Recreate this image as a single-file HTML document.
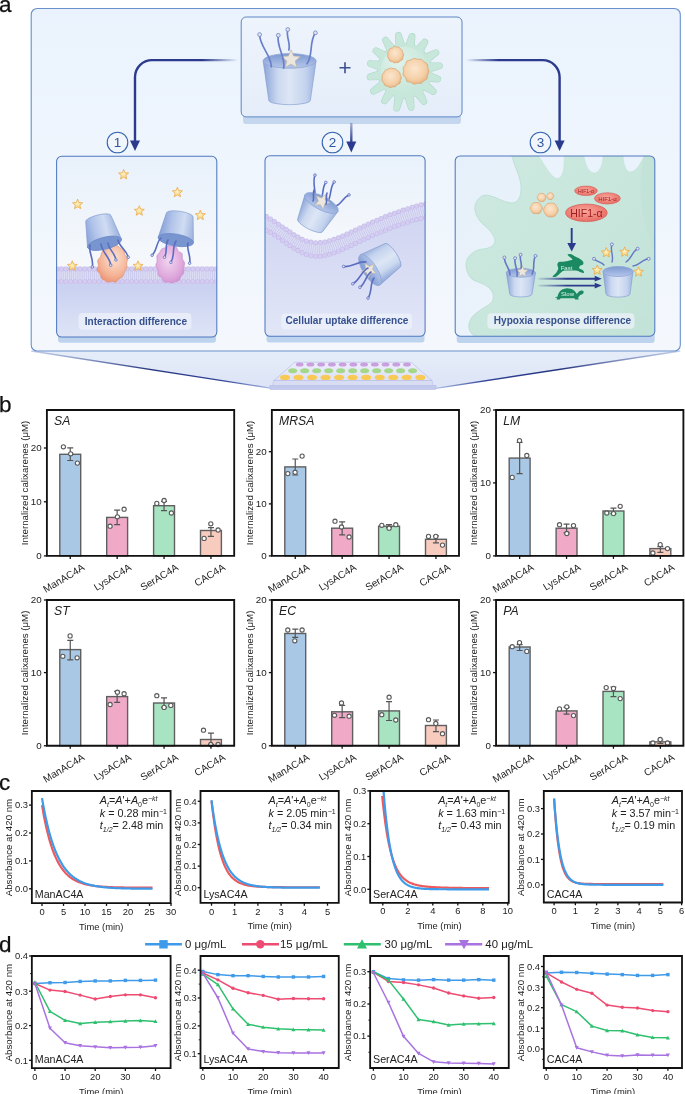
<!DOCTYPE html>
<html><head><meta charset="utf-8"><title>Figure</title>
<style>html,body{margin:0;padding:0;background:#fff;width:685px;height:1094px;overflow:hidden}
svg text{font-family:"Liberation Sans",sans-serif} svg{will-change:transform}</style></head>
<body>
<svg width="685" height="1094" viewBox="0 0 685 1094" style="display:block;font-family:'Liberation Sans',sans-serif">
<defs>
<linearGradient id="gBig" x1="0" y1="0" x2="0" y2="1"><stop offset="0" stop-color="#eaf3fd"/><stop offset="1" stop-color="#f4f8fd"/></linearGradient>
<linearGradient id="gFun" x1="0" y1="0" x2="0" y2="1"><stop offset="0" stop-color="#e6edf9"/><stop offset="1" stop-color="#dce4f6"/></linearGradient>
<linearGradient id="gFunL" x1="0" y1="0" x2="1" y2="0"><stop offset="0" stop-color="#9fb3dc" stop-opacity="0.6"/><stop offset="0.5" stop-color="#25347e"/><stop offset="0.8" stop-color="#34459a"/><stop offset="1" stop-color="#b3c2e8"/></linearGradient>
<linearGradient id="gFunR" x1="1" y1="0" x2="0" y2="0"><stop offset="0" stop-color="#9fb3dc" stop-opacity="0.6"/><stop offset="0.5" stop-color="#25347e"/><stop offset="0.8" stop-color="#34459a"/><stop offset="1" stop-color="#b3c2e8"/></linearGradient>
<linearGradient id="gTop" x1="0" y1="0" x2="0" y2="1"><stop offset="0" stop-color="#eef4fc"/><stop offset="1" stop-color="#e4edf9"/></linearGradient>
<linearGradient id="gArrV" x1="0" y1="123" x2="0" y2="143" gradientUnits="userSpaceOnUse"><stop offset="0" stop-color="#2b3a8c" stop-opacity="0.35"/><stop offset="1" stop-color="#2b3a8c"/></linearGradient>
<linearGradient id="gArrL" x1="1" y1="0" x2="0" y2="0"><stop offset="0" stop-color="#2b3a8c" stop-opacity="0"/><stop offset="0.35" stop-color="#2b3a8c"/><stop offset="1" stop-color="#2b3a8c"/></linearGradient>
<linearGradient id="gArrR" x1="0" y1="0" x2="1" y2="0"><stop offset="0" stop-color="#2b3a8c" stop-opacity="0"/><stop offset="0.35" stop-color="#2b3a8c"/><stop offset="1" stop-color="#2b3a8c"/></linearGradient>
<linearGradient id="gP1top" x1="0" y1="0" x2="0" y2="1"><stop offset="0" stop-color="#e8f1fb"/><stop offset="1" stop-color="#f6f8fb"/></linearGradient>
<linearGradient id="gP1bot" x1="0" y1="0" x2="0" y2="1"><stop offset="0" stop-color="#c6cdf0"/><stop offset="1" stop-color="#dfe5f6"/></linearGradient>
<linearGradient id="gP2bot" x1="0" y1="0" x2="0" y2="1"><stop offset="0" stop-color="#c9cdef"/><stop offset="1" stop-color="#e1e6f7"/></linearGradient>
<linearGradient id="gP3" x1="0" y1="0" x2="1" y2="1"><stop offset="0" stop-color="#e6f0fa"/><stop offset="1" stop-color="#eef5fb"/></linearGradient>
<linearGradient id="gBucket" x1="0" y1="0" x2="1" y2="0"><stop offset="0" stop-color="#9fb5e0"/><stop offset="0.3" stop-color="#dbe6f6"/><stop offset="0.7" stop-color="#b9cbeb"/><stop offset="1" stop-color="#8ea8db"/></linearGradient>
<linearGradient id="gBucketT" x1="0" y1="0" x2="1" y2="0"><stop offset="0" stop-color="#8aa3d6"/><stop offset="0.28" stop-color="#cbd8f0"/><stop offset="0.5" stop-color="#dde6f5"/><stop offset="0.8" stop-color="#c4d3ee"/><stop offset="1" stop-color="#9cb2de"/></linearGradient>
<linearGradient id="gRimT" x1="0" y1="0" x2="0" y2="1"><stop offset="0" stop-color="#7d99d2"/><stop offset="1" stop-color="#b5c7ea"/></linearGradient>
<linearGradient id="gBucketD" x1="0" y1="0" x2="1" y2="0"><stop offset="0" stop-color="#98afdd"/><stop offset="0.35" stop-color="#d0dcf2"/><stop offset="0.7" stop-color="#b0c3e9"/><stop offset="1" stop-color="#86a0d7"/></linearGradient>
<radialGradient id="gCell" cx="0.45" cy="0.45" r="0.6"><stop offset="0" stop-color="#dff2ea"/><stop offset="1" stop-color="#b9e0d2"/></radialGradient>
<radialGradient id="gOr" cx="0.45" cy="0.4" r="0.65"><stop offset="0" stop-color="#fbe6cf"/><stop offset="0.65" stop-color="#f5cfa6"/><stop offset="1" stop-color="#e6ad7a"/></radialGradient>
<radialGradient id="gCellIn" cx="0.35" cy="0.3" r="0.8"><stop offset="0" stop-color="#e2f3ec"/><stop offset="0.7" stop-color="#cdeadf" stop-opacity="0.6"/><stop offset="1" stop-color="#c6e6da" stop-opacity="0"/></radialGradient>
<radialGradient id="gBlobO" cx="0.55" cy="0.35" r="0.75"><stop offset="0" stop-color="#fde3d2"/><stop offset="0.6" stop-color="#f5b598"/><stop offset="1" stop-color="#e98a6c"/></radialGradient>
<radialGradient id="gBlobP" cx="0.45" cy="0.4" r="0.75"><stop offset="0" stop-color="#f3d6f0"/><stop offset="0.6" stop-color="#dfa9dc"/><stop offset="1" stop-color="#c685c8"/></radialGradient>
<radialGradient id="gHIF" cx="0.45" cy="0.4" r="0.7"><stop offset="0" stop-color="#f9a79c"/><stop offset="1" stop-color="#e5655d"/></radialGradient>
<linearGradient id="gArrH" x1="538" y1="0" x2="596" y2="0" gradientUnits="userSpaceOnUse"><stop offset="0" stop-color="#2b3a8c" stop-opacity="0.1"/><stop offset="0.5" stop-color="#2b3a8c"/><stop offset="1" stop-color="#2b3a8c"/></linearGradient>
<linearGradient id="gCell3" x1="0" y1="0" x2="1" y2="1"><stop offset="0" stop-color="#cfeae1"/><stop offset="1" stop-color="#c1e2d6"/></linearGradient>
<radialGradient id="gStar" cx="0.45" cy="0.45" r="0.6"><stop offset="0" stop-color="#fdf0c4"/><stop offset="1" stop-color="#f7cf6a"/></radialGradient>
<linearGradient id="gPlate" x1="0" y1="0" x2="0" y2="1"><stop offset="0" stop-color="#eceefa"/><stop offset="1" stop-color="#dde1f5"/></linearGradient>
<clipPath id="sp1"><rect x="56.6" y="156.3" width="160.2" height="180.7" rx="5"/></clipPath><clipPath id="sp2"><rect x="265" y="155.7" width="160.1" height="180.6" rx="5"/></clipPath><clipPath id="sp3"><rect x="455.2" y="156" width="199.6" height="180.2" rx="5"/></clipPath></defs>
<rect width="685" height="1094" fill="#fff"/>
<path d="M31.2 351 L680.3 351 L435.7 388.3 L272 388.3 Z" fill="url(#gFun)"/><line x1="31.2" y1="351" x2="272" y2="388.3" stroke="url(#gFunL)" stroke-width="1.3"/><line x1="680.3" y1="351" x2="435.7" y2="388.3" stroke="url(#gFunR)" stroke-width="1.3"/><rect x="31.2" y="8.5" width="649.1" height="342.5" rx="6" fill="url(#gBig)" stroke="#6a90cc" stroke-width="1.1"/><rect x="243" y="112" width="218" height="12" rx="3" fill="#c5d7ef"/><rect x="241.2" y="17" width="220.8" height="99.9" rx="5" fill="url(#gTop)" stroke="#5d84c6" stroke-width="1"/><g transform="translate(289.6 60.9) rotate(0)"><path d="M-26.5 0 L-20.8 39.4 A20.8 4.38 0 0 0 20.8 39.4 L26.5 0 Z" fill="url(#gBucketT)" stroke="#7d98cf" stroke-width="0.6"/><ellipse cx="0" cy="0" rx="26.5" ry="7.3" fill="url(#gRimT)" stroke="#8ea6d6" stroke-width="0.8"/></g><path d="M291.00,49.80 L293.59,56.03 L300.32,56.57 L295.19,60.96 L296.76,67.53 L291.00,64.01 L285.24,67.53 L286.81,60.96 L281.68,56.57 L288.41,56.03Z" fill="#ece7de" stroke="#c2b8a6" stroke-width="0.7" stroke-linejoin="round"/><path d="M271.3 66.7 C271.29 54.70 259.73 46.92 259.6 34.6" fill="none" stroke="#6a7fc8" stroke-width="1.7" stroke-linecap="round"/><circle cx="259.6" cy="34.6" r="1.9" fill="#e4e4ee" stroke="#6a7fc8" stroke-width="0.8"/><path d="M283.7 68.2 C285.87 56.70 276.19 47.13 278.3 35.3" fill="none" stroke="#6a7fc8" stroke-width="1.7" stroke-linecap="round"/><circle cx="278.3" cy="35.3" r="1.9" fill="#e4e4ee" stroke="#6a7fc8" stroke-width="0.8"/><path d="M288.8 50 C290.93 43.12 285.68 36.59 287.8 29.5" fill="none" stroke="#6a7fc8" stroke-width="1.7" stroke-linecap="round"/><circle cx="287.8" cy="29.5" r="1.9" fill="#e4e4ee" stroke="#6a7fc8" stroke-width="0.8"/><path d="M307 63.8 C313.49 54.58 308.82 42.33 315.4 32.8" fill="none" stroke="#6a7fc8" stroke-width="1.7" stroke-linecap="round"/><circle cx="315.4" cy="32.8" r="1.9" fill="#e4e4ee" stroke="#6a7fc8" stroke-width="0.8"/><path d="M339.5 67.8H350.5M345 62.3V73.3" stroke="#3b4f8f" stroke-width="1.6"/><path d="M404.94,46.39 L401.17,34.66 A2.80,2.80 0 0 0 395.66,35.64 L396.12,47.94Z" fill="#c8e7db" stroke="#aed8c9" stroke-width="1.2" stroke-linejoin="round"/><path d="M414.07,48.26 L414.76,36.95 A2.80,2.80 0 0 0 409.28,35.79 L405.31,46.39Z" fill="#c8e7db" stroke="#aed8c9" stroke-width="1.2" stroke-linejoin="round"/><path d="M422.14,53.71 L427.18,43.57 A2.80,2.80 0 0 0 422.60,40.36 L414.80,48.57Z" fill="#c8e7db" stroke="#aed8c9" stroke-width="1.2" stroke-linejoin="round"/><path d="M427.72,62.68 L437.45,55.12 A2.80,2.80 0 0 0 434.65,50.28 L423.24,54.92Z" fill="#c8e7db" stroke="#aed8c9" stroke-width="1.2" stroke-linejoin="round"/><path d="M429.09,71.90 L439.95,68.67 A2.80,2.80 0 0 0 439.17,63.13 L427.84,63.02Z" fill="#c8e7db" stroke="#aed8c9" stroke-width="1.2" stroke-linejoin="round"/><path d="M426.90,80.95 L437.21,81.79 A2.80,2.80 0 0 0 438.56,76.36 L429.07,72.26Z" fill="#c8e7db" stroke="#aed8c9" stroke-width="1.2" stroke-linejoin="round"/><path d="M421.48,88.53 L431.53,93.76 A2.80,2.80 0 0 0 434.82,89.22 L426.75,81.28Z" fill="#c8e7db" stroke="#aed8c9" stroke-width="1.2" stroke-linejoin="round"/><path d="M413.62,93.53 L421.51,102.98 A2.80,2.80 0 0 0 426.26,100.02 L421.22,88.78Z" fill="#c8e7db" stroke="#aed8c9" stroke-width="1.2" stroke-linejoin="round"/><path d="M404.46,95.21 L408.40,107.92 A2.80,2.80 0 0 0 413.92,106.95 L413.28,93.66Z" fill="#c8e7db" stroke="#aed8c9" stroke-width="1.2" stroke-linejoin="round"/><path d="M395.33,93.34 L394.02,107.58 A2.80,2.80 0 0 0 399.50,108.75 L404.09,95.21Z" fill="#c8e7db" stroke="#aed8c9" stroke-width="1.2" stroke-linejoin="round"/><path d="M387.57,88.19 L382.14,99.25 A2.80,2.80 0 0 0 386.78,102.38 L394.99,93.20Z" fill="#c8e7db" stroke="#aed8c9" stroke-width="1.2" stroke-linejoin="round"/><path d="M382.13,80.11 L371.98,88.71 A2.80,2.80 0 0 0 375.03,93.41 L387.01,87.63Z" fill="#c8e7db" stroke="#aed8c9" stroke-width="1.2" stroke-linejoin="round"/><path d="M380.29,70.56 L369.55,74.15 A2.80,2.80 0 0 0 370.52,79.67 L381.84,79.38Z" fill="#c8e7db" stroke="#aed8c9" stroke-width="1.2" stroke-linejoin="round"/><path d="M382.16,61.43 L370.85,60.74 A2.80,2.80 0 0 0 369.69,66.22 L380.29,70.19Z" fill="#c8e7db" stroke="#aed8c9" stroke-width="1.2" stroke-linejoin="round"/><path d="M387.61,53.36 L377.47,48.32 A2.80,2.80 0 0 0 374.26,52.90 L382.47,60.70Z" fill="#c8e7db" stroke="#aed8c9" stroke-width="1.2" stroke-linejoin="round"/><path d="M395.78,48.07 L387.89,38.62 A2.80,2.80 0 0 0 383.14,41.58 L388.18,52.82Z" fill="#c8e7db" stroke="#aed8c9" stroke-width="1.2" stroke-linejoin="round"/><circle cx="404.7" cy="70.8" r="27.6" fill="#aed8c9"/><path d="M404.94,46.39 L401.17,34.66 A2.80,2.80 0 0 0 395.66,35.64 L396.12,47.94Z" fill="#c8e7db"/><path d="M414.07,48.26 L414.76,36.95 A2.80,2.80 0 0 0 409.28,35.79 L405.31,46.39Z" fill="#c8e7db"/><path d="M422.14,53.71 L427.18,43.57 A2.80,2.80 0 0 0 422.60,40.36 L414.80,48.57Z" fill="#c8e7db"/><path d="M427.72,62.68 L437.45,55.12 A2.80,2.80 0 0 0 434.65,50.28 L423.24,54.92Z" fill="#c8e7db"/><path d="M429.09,71.90 L439.95,68.67 A2.80,2.80 0 0 0 439.17,63.13 L427.84,63.02Z" fill="#c8e7db"/><path d="M426.90,80.95 L437.21,81.79 A2.80,2.80 0 0 0 438.56,76.36 L429.07,72.26Z" fill="#c8e7db"/><path d="M421.48,88.53 L431.53,93.76 A2.80,2.80 0 0 0 434.82,89.22 L426.75,81.28Z" fill="#c8e7db"/><path d="M413.62,93.53 L421.51,102.98 A2.80,2.80 0 0 0 426.26,100.02 L421.22,88.78Z" fill="#c8e7db"/><path d="M404.46,95.21 L408.40,107.92 A2.80,2.80 0 0 0 413.92,106.95 L413.28,93.66Z" fill="#c8e7db"/><path d="M395.33,93.34 L394.02,107.58 A2.80,2.80 0 0 0 399.50,108.75 L404.09,95.21Z" fill="#c8e7db"/><path d="M387.57,88.19 L382.14,99.25 A2.80,2.80 0 0 0 386.78,102.38 L394.99,93.20Z" fill="#c8e7db"/><path d="M382.13,80.11 L371.98,88.71 A2.80,2.80 0 0 0 375.03,93.41 L387.01,87.63Z" fill="#c8e7db"/><path d="M380.29,70.56 L369.55,74.15 A2.80,2.80 0 0 0 370.52,79.67 L381.84,79.38Z" fill="#c8e7db"/><path d="M382.16,61.43 L370.85,60.74 A2.80,2.80 0 0 0 369.69,66.22 L380.29,70.19Z" fill="#c8e7db"/><path d="M387.61,53.36 L377.47,48.32 A2.80,2.80 0 0 0 374.26,52.90 L382.47,60.70Z" fill="#c8e7db"/><path d="M395.78,48.07 L387.89,38.62 A2.80,2.80 0 0 0 383.14,41.58 L388.18,52.82Z" fill="#c8e7db"/><circle cx="404.7" cy="70.8" r="27" fill="#c8e7db"/><circle cx="404.7" cy="70.8" r="24" fill="url(#gCellIn)"/><path d="M403.77,54.80 C403.81,55.51 403.07,56.20 402.88,56.97 C402.69,57.73 403.04,58.79 402.65,59.39 C402.25,60.00 401.12,60.09 400.51,60.58 C399.89,61.07 399.60,62.04 398.95,62.35 C398.30,62.66 397.36,62.34 396.60,62.43 C395.83,62.51 395.05,62.97 394.34,62.86 C393.63,62.75 393.03,62.07 392.31,61.78 C391.60,61.48 390.59,61.58 390.03,61.12 C389.46,60.66 389.32,59.69 388.94,59.02 C388.55,58.35 387.89,57.79 387.73,57.08 C387.56,56.38 387.93,55.56 387.93,54.80 C387.93,54.04 387.56,53.22 387.73,52.52 C387.89,51.81 388.55,51.25 388.93,50.58 C389.31,49.90 389.43,48.89 390.01,48.46 C390.59,48.04 391.69,48.38 392.41,48.03 C393.12,47.68 393.58,46.53 394.29,46.36 C394.99,46.19 395.84,46.86 396.62,47.00 C397.40,47.13 398.32,46.86 398.98,47.19 C399.63,47.52 399.99,48.43 400.55,48.97 C401.11,49.50 402.00,49.78 402.34,50.40 C402.69,51.03 402.39,51.97 402.63,52.71 C402.87,53.44 403.73,54.09 403.77,54.80Z" fill="url(#gOr)" stroke="#d9a06c" stroke-width="0.7"/><path d="M401.46,77.80 C401.48,78.67 400.68,79.51 400.43,80.42 C400.18,81.33 400.48,82.55 399.97,83.24 C399.47,83.94 398.14,84.05 397.40,84.61 C396.66,85.17 396.29,86.25 395.53,86.62 C394.76,86.99 393.71,86.70 392.80,86.85 C391.90,87.00 390.97,87.63 390.10,87.55 C389.23,87.46 388.47,86.70 387.60,86.34 C386.73,85.99 385.55,86.01 384.90,85.42 C384.25,84.83 384.20,83.61 383.70,82.81 C383.20,82.01 382.15,81.46 381.90,80.62 C381.65,79.78 382.16,78.73 382.19,77.80 C382.23,76.87 381.86,75.87 382.12,75.05 C382.39,74.22 383.28,73.61 383.78,72.84 C384.27,72.06 384.46,71.01 385.09,70.41 C385.73,69.80 386.74,69.58 387.58,69.21 C388.41,68.84 389.24,68.29 390.12,68.18 C390.99,68.06 391.93,68.37 392.84,68.50 C393.74,68.63 394.75,68.57 395.54,68.95 C396.34,69.32 396.89,70.17 397.60,70.76 C398.32,71.34 399.37,71.71 399.81,72.46 C400.26,73.20 400.02,74.33 400.29,75.22 C400.56,76.11 401.44,76.93 401.46,77.80Z" fill="url(#gOr)" stroke="#d9a06c" stroke-width="0.7"/><path d="M428.95,71.30 C428.94,72.47 428.06,73.60 427.76,74.81 C427.45,76.02 427.76,77.59 427.14,78.59 C426.52,79.59 425.02,80.04 424.04,80.81 C423.06,81.58 422.33,82.80 421.24,83.21 C420.15,83.63 418.74,83.12 417.52,83.29 C416.31,83.46 415.07,84.40 413.94,84.23 C412.81,84.07 411.93,82.77 410.77,82.32 C409.60,81.86 407.80,82.26 406.95,81.51 C406.10,80.76 406.34,78.88 405.67,77.81 C405.01,76.73 403.31,76.15 402.98,75.06 C402.65,73.98 403.67,72.55 403.70,71.30 C403.73,70.05 402.86,68.69 403.16,67.59 C403.45,66.48 404.86,65.76 405.48,64.67 C406.10,63.57 406.04,61.80 406.90,61.03 C407.76,60.25 409.47,60.45 410.65,60.02 C411.82,59.59 412.81,58.59 413.95,58.47 C415.10,58.34 416.32,59.12 417.53,59.28 C418.74,59.43 420.14,59.00 421.23,59.41 C422.31,59.83 423.05,61.02 424.05,61.78 C425.05,62.53 426.58,62.97 427.22,63.96 C427.85,64.96 427.55,66.54 427.84,67.76 C428.13,68.99 428.97,70.13 428.95,71.30Z" fill="url(#gOr)" stroke="#d9a06c" stroke-width="0.7"/><path d="M238 60.1 H152 A17 17 0 0 0 135 77.1 V141" fill="none" stroke="url(#gArrL)" stroke-width="2.4"/><path d="M130 140.4 L140 140.4 L135 151 Z" fill="#2b3a8c"/><path d="M466 60.1 H542.6 A17 17 0 0 1 559.6 77.1 V141" fill="none" stroke="url(#gArrR)" stroke-width="2.4"/><path d="M554.6 140.4 L564.6 140.4 L559.6 151 Z" fill="#2b3a8c"/><path d="M351.3 123 V143" fill="none" stroke="url(#gArrV)" stroke-width="2.4"/><path d="M346.3 141.5 L356.3 141.5 L351.3 152.5 Z" fill="#2b3a8c"/><circle cx="117.5" cy="142.5" r="10.3" fill="#f1f6fc" stroke="#3563b0" stroke-width="1.1"/><text x="117.5" y="147.4" text-anchor="middle" font-size="13.5" fill="#2f56a0">1</text><circle cx="332.5" cy="142.5" r="10.3" fill="#f1f6fc" stroke="#3563b0" stroke-width="1.1"/><text x="332.5" y="147.4" text-anchor="middle" font-size="13.5" fill="#2f56a0">2</text><circle cx="540.5" cy="142.5" r="10.3" fill="#f1f6fc" stroke="#3563b0" stroke-width="1.1"/><text x="540.5" y="147.4" text-anchor="middle" font-size="13.5" fill="#2f56a0">3</text><rect x="58" y="330" width="158" height="12.8" rx="3" fill="#bdd3ee"/><g clip-path="url(#sp1)"><rect x="56.6" y="156.3" width="160.2" height="112" fill="url(#gP1top)"/><rect x="56.6" y="276" width="160.2" height="62" fill="url(#gP1bot)"/><rect x="56.6" y="266.6" width="160.20000000000002" height="17.599999999999966" fill="#dcdcf4"/><line x1="56.6" y1="275.4" x2="216.8" y2="275.4" stroke="#c2c3ea" stroke-width="11.599999999999966" stroke-dasharray="0.6 1.5"/><line x1="56.6" y1="269.0" x2="216.8" y2="269.0" stroke="#c4bbe8" stroke-width="5" stroke-linecap="round" stroke-dasharray="0 4.7"/><line x1="56.6" y1="269.0" x2="216.8" y2="269.0" stroke="#d5cdf1" stroke-width="3.9" stroke-linecap="round" stroke-dasharray="0 4.7"/><line x1="56.6" y1="281.8" x2="216.8" y2="281.8" stroke="#c4bbe8" stroke-width="5" stroke-linecap="round" stroke-dasharray="0 4.7"/><line x1="56.6" y1="281.8" x2="216.8" y2="281.8" stroke="#d5cdf1" stroke-width="3.9" stroke-linecap="round" stroke-dasharray="0 4.7"/><path d="M123.60,169.40 L125.00,172.77 L128.64,173.06 L125.87,175.44 L126.72,178.99 L123.60,177.08 L120.48,178.99 L121.33,175.44 L118.56,173.06 L122.20,172.77Z" fill="url(#gStar)" stroke="#eaa544" stroke-width="0.7" stroke-linejoin="round"/><path d="M77.60,199.10 L79.00,202.47 L82.64,202.76 L79.87,205.14 L80.72,208.69 L77.60,206.78 L74.48,208.69 L75.33,205.14 L72.56,202.76 L76.20,202.47Z" fill="url(#gStar)" stroke="#eaa544" stroke-width="0.7" stroke-linejoin="round"/><path d="M139.30,205.70 L140.70,209.07 L144.34,209.36 L141.57,211.74 L142.42,215.29 L139.30,213.38 L136.18,215.29 L137.03,211.74 L134.26,209.36 L137.90,209.07Z" fill="url(#gStar)" stroke="#eaa544" stroke-width="0.7" stroke-linejoin="round"/><path d="M177.40,187.20 L178.80,190.57 L182.44,190.86 L179.67,193.24 L180.52,196.79 L177.40,194.88 L174.28,196.79 L175.13,193.24 L172.36,190.86 L176.00,190.57Z" fill="url(#gStar)" stroke="#eaa544" stroke-width="0.7" stroke-linejoin="round"/><path d="M200.30,210.10 L201.70,213.47 L205.34,213.76 L202.57,216.14 L203.42,219.69 L200.30,217.78 L197.18,219.69 L198.03,216.14 L195.26,213.76 L198.90,213.47Z" fill="url(#gStar)" stroke="#eaa544" stroke-width="0.7" stroke-linejoin="round"/><path d="M72.30,260.80 L73.70,264.17 L77.34,264.46 L74.57,266.84 L75.42,270.39 L72.30,268.49 L69.18,270.39 L70.03,266.84 L67.26,264.46 L70.90,264.17Z" fill="url(#gStar)" stroke="#eaa544" stroke-width="0.7" stroke-linejoin="round"/><path d="M138.00,260.80 L139.40,264.17 L143.04,264.46 L140.27,266.84 L141.12,270.39 L138.00,268.49 L134.88,270.39 L135.73,266.84 L132.96,264.46 L136.60,264.17Z" fill="url(#gStar)" stroke="#eaa544" stroke-width="0.7" stroke-linejoin="round"/><path d="M126.78,267.76 C126.40,269.26 125.14,270.48 124.46,271.94 C123.77,273.40 123.57,275.36 122.67,276.52 C121.76,277.67 120.19,277.94 119.04,278.89 C117.89,279.84 116.97,281.81 115.77,282.21 C114.57,282.61 113.15,281.28 111.85,281.29 C110.56,281.29 109.20,282.39 108.00,282.24 C106.81,282.08 105.79,281.01 104.69,280.35 C103.58,279.68 102.16,279.34 101.40,278.26 C100.64,277.19 100.81,275.17 100.11,273.88 C99.42,272.58 97.50,271.93 97.21,270.52 C96.92,269.11 98.28,267.09 98.37,265.42 C98.46,263.75 97.35,262.00 97.72,260.52 C98.09,259.03 99.85,257.96 100.59,256.49 C101.33,255.02 101.25,252.79 102.17,251.69 C103.10,250.60 104.96,250.84 106.14,249.92 C107.32,249.00 108.06,246.80 109.23,246.18 C110.41,245.57 111.86,246.34 113.18,246.24 C114.50,246.15 115.95,245.30 117.13,245.62 C118.31,245.94 119.15,247.45 120.27,248.15 C121.39,248.84 123.12,248.72 123.87,249.80 C124.61,250.88 124.13,253.27 124.75,254.63 C125.37,255.99 127.26,256.57 127.59,257.96 C127.92,259.35 126.87,261.34 126.73,262.97 C126.60,264.61 127.16,266.27 126.78,267.76Z" fill="url(#gBlobO)" stroke="#de8f6e" stroke-width="0.6"/><path d="M184.67,263.13 C184.88,264.66 183.88,266.29 183.72,267.94 C183.56,269.59 184.15,271.60 183.70,273.03 C183.26,274.46 181.84,275.25 181.05,276.51 C180.26,277.76 179.91,279.70 178.95,280.58 C177.99,281.46 176.49,281.36 175.30,281.77 C174.11,282.17 173.01,283.02 171.83,283.04 C170.66,283.06 169.50,282.06 168.25,281.89 C167.00,281.73 165.40,282.71 164.32,282.06 C163.24,281.40 162.77,279.09 161.77,277.96 C160.77,276.84 158.96,276.64 158.33,275.31 C157.70,273.99 158.39,271.62 157.98,270.01 C157.57,268.40 156.01,267.16 155.86,265.65 C155.71,264.15 156.91,262.60 157.08,260.97 C157.26,259.34 156.47,257.29 156.89,255.89 C157.30,254.49 158.77,253.73 159.59,252.56 C160.41,251.40 160.85,249.68 161.81,248.89 C162.76,248.09 164.19,248.34 165.32,247.77 C166.44,247.20 167.40,245.71 168.55,245.49 C169.69,245.26 170.96,246.18 172.21,246.42 C173.45,246.66 174.99,246.12 176.02,246.92 C177.05,247.72 177.38,250.14 178.38,251.24 C179.38,252.35 181.33,252.30 182.00,253.55 C182.68,254.81 181.99,257.18 182.44,258.78 C182.88,260.38 184.45,261.61 184.67,263.13Z" fill="url(#gBlobP)" stroke="#c98ccd" stroke-width="0.6"/><g transform="translate(104.5 243.3) rotate(166)"><path d="M-17.5 0 L-13.0 25.5 A13.0 3.5999999999999996 0 0 0 13.0 25.5 L17.5 0 Z" fill="url(#gBucketD)" stroke="#7d98cf" stroke-width="0.6"/><ellipse cx="0" cy="0" rx="17.5" ry="6" fill="#7895d0" stroke="#6d8bc9" stroke-width="0.8"/></g><g transform="translate(175.8 240.1) rotate(189)"><path d="M-17.85 0 L-13.5 25.5 A13.5 3.5999999999999996 0 0 0 13.5 25.5 L17.85 0 Z" fill="url(#gBucketD)" stroke="#7d98cf" stroke-width="0.6"/><ellipse cx="0" cy="0" rx="17.85" ry="6" fill="#7895d0" stroke="#6d8bc9" stroke-width="0.8"/></g><path d="M90 245 C88.13 252.50 94.15 259.18 92.3 266.9" fill="none" stroke="#5a6dc0" stroke-width="1.6" stroke-linecap="round"/><circle cx="92.3" cy="266.9" r="1.3" fill="#e4e4ee" stroke="#5a6dc0" stroke-width="0.8"/><path d="M101 244 C101.66 252.16 109.95 256.83 110.7 265.2" fill="none" stroke="#5a6dc0" stroke-width="1.6" stroke-linecap="round"/><circle cx="110.7" cy="265.2" r="1.3" fill="#e4e4ee" stroke="#5a6dc0" stroke-width="0.8"/><path d="M108 243 C108.58 249.53 115.24 253.21 115.9 259.9" fill="none" stroke="#5a6dc0" stroke-width="1.6" stroke-linecap="round"/><circle cx="115.9" cy="259.9" r="1.3" fill="#e4e4ee" stroke="#5a6dc0" stroke-width="0.8"/><path d="M118 240 C119.29 246.93 126.81 250.19 128.2 257.3" fill="none" stroke="#5a6dc0" stroke-width="1.6" stroke-linecap="round"/><circle cx="128.2" cy="257.3" r="1.3" fill="#e4e4ee" stroke="#5a6dc0" stroke-width="0.8"/><path d="M161 238 C156.00 242.61 157.19 250.42 152.1 255.2" fill="none" stroke="#5a6dc0" stroke-width="1.6" stroke-linecap="round"/><circle cx="152.1" cy="255.2" r="1.3" fill="#e4e4ee" stroke="#5a6dc0" stroke-width="0.8"/><path d="M168 240 C164.78 245.26 167.75 251.77 164.5 257.2" fill="none" stroke="#5a6dc0" stroke-width="1.6" stroke-linecap="round"/><circle cx="164.5" cy="257.2" r="1.3" fill="#e4e4ee" stroke="#5a6dc0" stroke-width="0.8"/><path d="M176 241 C171.76 247.42 175.19 255.67 170.9 262.3" fill="none" stroke="#5a6dc0" stroke-width="1.6" stroke-linecap="round"/><circle cx="170.9" cy="262.3" r="1.3" fill="#e4e4ee" stroke="#5a6dc0" stroke-width="0.8"/><path d="M188 243 C186.10 249.86 191.48 256.14 189.6 263.2" fill="none" stroke="#5a6dc0" stroke-width="1.6" stroke-linecap="round"/><circle cx="189.6" cy="263.2" r="1.3" fill="#e4e4ee" stroke="#5a6dc0" stroke-width="0.8"/><rect x="78.5" y="312.9" width="112.9" height="16.900000000000034" rx="4" fill="#eef2fb" fill-opacity="0.75"/><text x="84.8" y="324.7" font-size="10.05" font-weight="bold" fill="#35508c">Interaction difference</text></g><rect x="56.6" y="156.3" width="160.2" height="180.7" rx="5" fill="none" stroke="#5079bf" stroke-width="1.05"/><rect x="266.5" y="330" width="158" height="12.6" rx="3" fill="#bdd3ee"/><g clip-path="url(#sp2)"><rect x="265" y="155.7" width="160.1" height="180.6" fill="url(#gP2bot)"/><path d="M258 150 H432 V209 C372 222, 342 249, 318 249.5 C298 250, 285 232, 258 219 Z" fill="url(#gP1top)"/><path d="M258 219 C285 232, 298 250, 318 249.5 C342 249, 372 222, 432 209" fill="none" stroke="#dcdcf4" stroke-width="15"/><path d="M258 219 C285 232, 298 250, 318 249.5 C342 249, 372 222, 432 209" fill="none" stroke="#c2c3ea" stroke-width="9" stroke-dasharray="0.6 1.5"/><path d="M258 219 C285 232, 298 250, 318 249.5 C342 249, 372 222, 432 209" transform="translate(0 -6.8)" fill="none" stroke="#c4bbe8" stroke-width="5" stroke-linecap="round" stroke-dasharray="0 4.7"/><path d="M258 219 C285 232, 298 250, 318 249.5 C342 249, 372 222, 432 209" transform="translate(0 -6.8)" fill="none" stroke="#d5cdf1" stroke-width="3.9" stroke-linecap="round" stroke-dasharray="0 4.7"/><path d="M258 219 C285 232, 298 250, 318 249.5 C342 249, 372 222, 432 209" transform="translate(0 6.8)" fill="none" stroke="#c4bbe8" stroke-width="5" stroke-linecap="round" stroke-dasharray="0 4.7"/><path d="M258 219 C285 232, 298 250, 318 249.5 C342 249, 372 222, 432 209" transform="translate(0 6.8)" fill="none" stroke="#d5cdf1" stroke-width="3.9" stroke-linecap="round" stroke-dasharray="0 4.7"/><path d="M314 201 C317.44 192.57 311.55 183.79 315 175.1" fill="none" stroke="#5a6dc0" stroke-width="1.6" stroke-linecap="round"/><circle cx="315" cy="175.1" r="1.3" fill="#e4e4ee" stroke="#5a6dc0" stroke-width="0.8"/><path d="M320 201 C324.15 195.56 321.60 188.03 325.8 182.4" fill="none" stroke="#5a6dc0" stroke-width="1.6" stroke-linecap="round"/><circle cx="325.8" cy="182.4" r="1.3" fill="#e4e4ee" stroke="#5a6dc0" stroke-width="0.8"/><path d="M327 203 C331.91 196.90 329.22 188.21 334.2 181.9" fill="none" stroke="#5a6dc0" stroke-width="1.6" stroke-linecap="round"/><circle cx="334.2" cy="181.9" r="1.3" fill="#e4e4ee" stroke="#5a6dc0" stroke-width="0.8"/><path d="M336 206 C341.62 203.90 343.25 197.11 349 194.9" fill="none" stroke="#5a6dc0" stroke-width="1.6" stroke-linecap="round"/><circle cx="349" cy="194.9" r="1.3" fill="#e4e4ee" stroke="#5a6dc0" stroke-width="0.8"/><g transform="translate(321.5 203) rotate(27)"><path d="M-18.5 0 L-14.0 25 A14.0 4.08 0 0 0 14.0 25 L18.5 0 Z" fill="url(#gBucketT)" stroke="#7d98cf" stroke-width="0.6"/><ellipse cx="0" cy="0" rx="18.5" ry="6.8" fill="url(#gRimT)" stroke="#8ea6d6" stroke-width="0.8"/></g><path d="M325.63,194.37 L325.21,199.87 L329.90,202.75 L324.55,204.05 L323.25,209.40 L320.37,204.71 L314.87,205.13 L318.44,200.94 L316.34,195.84 L321.44,197.94Z" fill="#ece7de" stroke="#c2b8a6" stroke-width="0.7" stroke-linejoin="round"/><path d="M313 201 C314.65 197.49 312.34 193.62 314 190" fill="none" stroke="#5a6dc0" stroke-width="1.6" stroke-linecap="round"/><path d="M326 204 C327.65 200.49 325.34 196.62 327 193" fill="none" stroke="#5a6dc0" stroke-width="1.6" stroke-linecap="round"/><g transform="translate(370 270) rotate(237)"><path d="M-18.0 0 L-14.0 27 A14.0 4.08 0 0 0 14.0 27 L18.0 0 Z" fill="url(#gBucketT)" stroke="#7d98cf" stroke-width="0.6"/><ellipse cx="0" cy="0" rx="18.0" ry="6.8" fill="url(#gRimT)" stroke="#8ea6d6" stroke-width="0.8"/></g><path d="M365.00,263.07 L369.38,266.42 L374.35,264.05 L372.52,269.25 L376.31,273.25 L370.80,273.12 L368.16,277.96 L366.59,272.68 L361.17,271.66 L365.71,268.54Z" fill="#ece7de" stroke="#c2b8a6" stroke-width="0.7" stroke-linejoin="round"/><path d="M366 262 C358.07 260.80 351.76 267.66 343.6 266.5" fill="none" stroke="#5a6dc0" stroke-width="1.6" stroke-linecap="round"/><circle cx="343.6" cy="266.5" r="1.3" fill="#e4e4ee" stroke="#5a6dc0" stroke-width="0.8"/><path d="M368 268 C361.09 271.39 359.86 280.25 352.8 283.8" fill="none" stroke="#5a6dc0" stroke-width="1.6" stroke-linecap="round"/><circle cx="352.8" cy="283.8" r="1.3" fill="#e4e4ee" stroke="#5a6dc0" stroke-width="0.8"/><path d="M371 272 C365.50 275.72 365.51 283.43 359.9 287.3" fill="none" stroke="#5a6dc0" stroke-width="1.6" stroke-linecap="round"/><circle cx="359.9" cy="287.3" r="1.3" fill="#e4e4ee" stroke="#5a6dc0" stroke-width="0.8"/><path d="M374 278 C369.61 283.91 372.45 291.99 368 298.1" fill="none" stroke="#5a6dc0" stroke-width="1.6" stroke-linecap="round"/><circle cx="368" cy="298.1" r="1.3" fill="#e4e4ee" stroke="#5a6dc0" stroke-width="0.8"/><rect x="281.2" y="313.4" width="131.0" height="16.0" rx="4" fill="#eef2fb" fill-opacity="0.75"/><text x="285.5" y="324.29999999999995" font-size="10.05" font-weight="bold" fill="#35508c">Cellular uptake difference</text></g><rect x="265" y="155.7" width="160.1" height="180.6" rx="5" fill="none" stroke="#5079bf" stroke-width="1.05"/><rect x="456.7" y="330" width="198" height="13" rx="3" fill="#bdd3ee"/><g clip-path="url(#sp3)"><rect x="455.2" y="156" width="199.6" height="180.2" fill="url(#gP3)"/><path d="M512.50,140.00 C486.30,143.00 512.30,153.50 512.80,158.00 C513.30,162.50 514.50,164.00 515.50,167.00 C516.50,170.00 517.90,173.00 518.80,176.00 C519.70,179.00 520.68,181.68 520.90,185.00 C521.12,188.32 521.12,192.98 520.10,195.90 C519.08,198.82 517.22,201.52 514.80,202.50 C512.38,203.48 509.18,202.75 505.60,201.80 C502.02,200.85 496.88,197.88 493.30,196.80 C489.72,195.72 486.78,194.68 484.10,195.30 C481.42,195.92 478.73,198.12 477.20,200.50 C475.67,202.88 474.52,206.28 474.90,209.60 C475.28,212.92 476.93,216.82 479.50,220.40 C482.07,223.98 487.73,227.75 490.30,231.10 C492.87,234.45 494.90,237.80 494.90,240.50 C494.90,243.20 493.45,245.58 490.30,247.30 C487.15,249.02 479.83,248.85 476.00,250.80 C472.17,252.75 468.88,255.97 467.30,259.00 C465.72,262.03 465.73,265.68 466.50,269.00 C467.27,272.32 468.70,276.18 471.90,278.90 C475.10,281.62 482.25,283.00 485.70,285.30 C489.15,287.60 491.58,289.93 492.60,292.70 C493.62,295.47 493.72,299.08 491.80,301.90 C489.88,304.72 484.42,307.05 481.10,309.60 C477.78,312.15 473.95,314.40 471.90,317.20 C469.85,320.00 468.80,323.58 468.80,326.40 C468.80,329.22 470.03,332.00 471.90,334.10 C473.77,336.20 476.98,336.35 480.00,339.00 C483.02,341.65 458.33,348.17 490.00,350.00 C521.67,351.83 640.00,385.00 670.00,350.00 C700.00,315.00 696.25,175.00 670.00,140.00 C643.75,105.00 538.70,137.00 512.50,140.00Z" fill="url(#gCell3)" stroke="#b7ddd0" stroke-width="0.8"/><path d="M644 156 C636 190, 642 230, 660 262 V156Z" fill="#c2e2d7" opacity="0.8"/><path d="M520 336 C545 318, 600 312, 660 318 V340 H520Z" fill="#c4e3d8" opacity="0.6"/><path d="M538.5,150 L538.5,156 C545,165 551,178.5 557.5,178.5 C562.5,178.5 564.2,170 564.2,160 L564.2,150 Z" fill="#eaf3fb" stroke="#c3e2d7" stroke-width="0.6"/><path d="M584,150 L584,157 C586,168 590,173 594.5,173 C599,173 603,165 603,157 L603,150 Z" fill="#eaf3fb" stroke="#c3e2d7" stroke-width="0.6"/><path d="M623,150 L623,157 C624,166 626.5,172 630,172 C636,172 641,163 644,156 L644,150 Z" fill="#eaf3fb" stroke="#c3e2d7" stroke-width="0.6"/><path d="M545.93,197.40 C545.94,198.08 545.52,198.82 545.17,199.46 C544.82,200.10 544.42,200.91 543.82,201.25 C543.23,201.58 542.33,201.48 541.60,201.47 C540.87,201.45 540.03,201.49 539.43,201.16 C538.83,200.82 538.39,200.10 538.01,199.47 C537.62,198.85 537.10,198.09 537.11,197.40 C537.12,196.71 537.69,196.00 538.07,195.36 C538.45,194.72 538.81,193.91 539.39,193.58 C539.98,193.25 540.88,193.37 541.60,193.39 C542.32,193.41 543.16,193.36 543.74,193.69 C544.33,194.02 544.74,194.76 545.10,195.38 C545.46,196.00 545.91,196.72 545.93,197.40Z" fill="url(#gOr)" stroke="#d9955e" stroke-width="0.5"/><path d="M553.96,196.20 C553.96,196.74 553.41,197.31 553.09,197.81 C552.77,198.31 552.50,198.91 552.04,199.21 C551.57,199.51 550.88,199.59 550.30,199.60 C549.72,199.60 549.01,199.53 548.55,199.24 C548.08,198.94 547.82,198.32 547.51,197.81 C547.20,197.30 546.71,196.74 546.70,196.20 C546.69,195.66 547.18,195.09 547.47,194.57 C547.77,194.04 548.00,193.31 548.48,193.04 C548.95,192.77 549.69,192.96 550.30,192.96 C550.91,192.95 551.66,192.76 552.13,193.03 C552.60,193.30 552.82,194.04 553.12,194.57 C553.43,195.10 553.97,195.66 553.96,196.20Z" fill="url(#gOr)" stroke="#d9955e" stroke-width="0.5"/><path d="M542.44,208.10 C542.46,209.05 541.73,210.09 541.21,210.99 C540.69,211.89 540.15,213.06 539.31,213.49 C538.48,213.92 537.23,213.60 536.20,213.58 C535.17,213.57 533.95,213.85 533.14,213.40 C532.33,212.95 531.86,211.78 531.35,210.90 C530.84,210.02 530.08,209.02 530.10,208.10 C530.11,207.18 530.92,206.21 531.44,205.35 C531.96,204.49 532.42,203.40 533.21,202.92 C534.00,202.44 535.20,202.49 536.20,202.49 C537.20,202.49 538.39,202.44 539.20,202.91 C540.01,203.38 540.52,204.43 541.06,205.29 C541.60,206.16 542.41,207.15 542.44,208.10Z" fill="url(#gOr)" stroke="#d9955e" stroke-width="0.5"/><path d="M558.24,210.00 C558.24,211.15 557.44,212.42 556.80,213.47 C556.17,214.51 555.41,215.66 554.41,216.25 C553.41,216.84 552.00,217.00 550.80,217.00 C549.60,217.00 548.18,216.85 547.19,216.25 C546.20,215.66 545.45,214.47 544.86,213.43 C544.26,212.39 543.63,211.15 543.62,210.00 C543.62,208.85 544.23,207.59 544.83,206.55 C545.42,205.51 546.20,204.33 547.20,203.76 C548.19,203.19 549.58,203.16 550.80,203.12 C552.02,203.09 553.53,202.98 554.52,203.55 C555.52,204.12 556.16,205.47 556.78,206.55 C557.40,207.62 558.23,208.85 558.24,210.00Z" fill="url(#gOr)" stroke="#d9955e" stroke-width="0.5"/><ellipse cx="586" cy="190.8" rx="11.4" ry="4.8" fill="url(#gHIF)" stroke="#d0504a" stroke-width="0.5"/><text x="586" y="192.6" text-anchor="middle" font-size="5.2" fill="#a02020">HIF1-α</text><ellipse cx="607.4" cy="198.4" rx="12.9" ry="5.7" fill="url(#gHIF)" stroke="#d0504a" stroke-width="0.5"/><text x="607.4" y="200.5" text-anchor="middle" font-size="6" fill="#a02020">HIF1-α</text><ellipse cx="586.4" cy="212.8" rx="20.8" ry="8.8" fill="url(#gHIF)" stroke="#d0504a" stroke-width="0.6"/><text x="586.4" y="216.8" text-anchor="middle" font-size="10.5" fill="#a01c1c">HIF1-α</text><path d="M571.7 228 V244" stroke="#2b3a8c" stroke-width="1.9"/><path d="M567.3 243 L576.1 243 L571.7 251.5Z" fill="#2b3a8c"/><path d="M552.52,276.69 C552.45,276.10 555.07,274.28 556.02,272.96 C556.97,271.65 557.99,270.19 558.21,268.80 C558.43,267.42 557.30,265.74 557.34,264.64 C557.37,263.55 557.77,262.71 558.43,262.23 C559.09,261.76 559.71,262.02 561.28,261.80 C562.85,261.58 565.99,261.29 567.85,260.92 C569.71,260.56 572.05,260.23 572.45,259.61 C572.85,258.99 571.06,258.04 570.26,257.20 C569.45,256.36 567.48,255.08 567.63,254.57 C567.77,254.06 569.78,253.77 571.13,254.13 C572.48,254.50 574.49,256.10 575.73,256.76 C576.97,257.42 577.63,257.53 578.58,258.07 C579.53,258.62 580.62,259.31 581.43,260.04 C582.23,260.77 583.18,261.69 583.40,262.45 C583.61,263.22 583.25,264.13 582.74,264.64 C582.23,265.15 580.91,264.93 580.33,265.52 C579.75,266.10 578.80,267.34 579.24,268.15 C579.67,268.95 582.19,269.53 582.96,270.34 C583.72,271.14 584.20,272.64 583.83,272.96 C583.47,273.29 581.90,272.67 580.77,272.31 C579.64,271.94 578.65,271.07 577.05,270.77 C575.44,270.48 573.18,270.59 571.13,270.56 C569.09,270.52 566.42,270.26 564.78,270.56 C563.14,270.85 562.67,271.32 561.28,272.31 C559.89,273.29 557.92,275.74 556.46,276.47 C555.00,277.20 552.59,277.27 552.52,276.69Z" fill="#1b8a62"/><text x="566.5" y="269.8" text-anchor="middle" font-size="6" fill="#dff3ea">Fast</text><path transform="translate(554.7 288)" d="M0,9.6 L3,8.6 C3.5,3.5 7.5,0.3 12.5,0.2 C17.5,0.2 21,3 22,6 L24.5,3.2 C26,2 28.5,2.3 29,3.8 C29.3,5.3 27.8,6.5 25.5,7 L23.5,9.6 L24,11.5 L20.5,11.5 L19.8,10.2 L6,10.2 L5,11.5 L1.8,11.5 L2.5,10 Z" fill="#1b8a62"/><text x="567.5" y="296.3" text-anchor="middle" font-size="6" fill="#dff3ea">Slow</text><path d="M538.3 278.7 H596 M538.3 285.6 H596" stroke="url(#gArrH)" stroke-width="1.9"/><path d="M594.7 275.8 L601.8 278.7 L594.7 281.6Z M594.7 282.7 L601.8 285.6 L594.7 288.5Z" fill="#2b3a8c"/><g transform="translate(520.9 272.8) rotate(0)"><path d="M-14.6 0 L-11.1 21.5 A11.1 2.64 0 0 0 11.1 21.5 L14.6 0 Z" fill="url(#gBucketT)" stroke="#7d98cf" stroke-width="0.6"/><ellipse cx="0" cy="0" rx="14.6" ry="4.4" fill="url(#gRimT)" stroke="#8ea6d6" stroke-width="0.8"/></g><path d="M522.40,265.80 L523.99,269.62 L528.11,269.95 L524.97,272.63 L525.93,276.65 L522.40,274.50 L518.87,276.65 L519.83,272.63 L516.69,269.95 L520.81,269.62Z" fill="#ece7de" stroke="#c2b8a6" stroke-width="0.7" stroke-linejoin="round"/><path d="M510 275 C510.25 268.55 504.20 264.12 504.4 257.5" fill="none" stroke="#6677c4" stroke-width="1.6" stroke-linecap="round"/><circle cx="504.4" cy="257.5" r="1.5" fill="#e4e4ee" stroke="#6677c4" stroke-width="0.8"/><path d="M517 276 C518.51 269.90 513.61 264.48 515.1 258.2" fill="none" stroke="#6677c4" stroke-width="1.6" stroke-linecap="round"/><circle cx="515.1" cy="258.2" r="1.5" fill="#e4e4ee" stroke="#6677c4" stroke-width="0.8"/><path d="M521 268 C522.46 263.56 519.14 259.27 520.6 254.7" fill="none" stroke="#6677c4" stroke-width="1.6" stroke-linecap="round"/><circle cx="520.6" cy="254.7" r="1.5" fill="#e4e4ee" stroke="#6677c4" stroke-width="0.8"/><path d="M532 274 C535.33 268.45 532.14 261.63 535.5 255.9" fill="none" stroke="#6677c4" stroke-width="1.6" stroke-linecap="round"/><circle cx="535.5" cy="255.9" r="1.5" fill="#e4e4ee" stroke="#6677c4" stroke-width="0.8"/><g transform="translate(618 271.5) rotate(0)"><path d="M-15.0 0 L-12.0 22.6 A12.0 3.0 0 0 0 12.0 22.6 L15.0 0 Z" fill="url(#gBucketT)" stroke="#7d98cf" stroke-width="0.6"/><ellipse cx="0" cy="0" rx="15.0" ry="5" fill="url(#gRimT)" stroke="#8ea6d6" stroke-width="0.8"/></g><path d="M604 265 C601.44 261.75 596.66 262.11 594 258.8" fill="none" stroke="#6677c4" stroke-width="1.4" stroke-linecap="round"/><circle cx="594" cy="258.8" r="1.5" fill="#e4e4ee" stroke="#6677c4" stroke-width="0.8"/><path d="M612 262 C614.08 256.18 609.82 250.40 611.9 244.4" fill="none" stroke="#6677c4" stroke-width="1.4" stroke-linecap="round"/><circle cx="611.9" cy="244.4" r="1.5" fill="#e4e4ee" stroke="#6677c4" stroke-width="0.8"/><path d="M626 262 C631.42 259.00 632.06 251.83 637.6 248.7" fill="none" stroke="#6677c4" stroke-width="1.4" stroke-linecap="round"/><circle cx="637.6" cy="248.7" r="1.5" fill="#e4e4ee" stroke="#6677c4" stroke-width="0.8"/><path d="M633 266 C639.05 265.51 642.50 259.36 648.7 258.8" fill="none" stroke="#6677c4" stroke-width="1.4" stroke-linecap="round"/><circle cx="648.7" cy="258.8" r="1.5" fill="#e4e4ee" stroke="#6677c4" stroke-width="0.8"/><path d="M606.30,247.50 L607.68,250.81 L611.25,251.09 L608.53,253.42 L609.36,256.91 L606.30,255.04 L603.24,256.91 L604.07,253.42 L601.35,251.09 L604.92,250.81Z" fill="url(#gStar)" stroke="#eaa544" stroke-width="0.7" stroke-linejoin="round"/><path d="M624.70,246.90 L626.08,250.21 L629.65,250.49 L626.93,252.82 L627.76,256.31 L624.70,254.44 L621.64,256.31 L622.47,252.82 L619.75,250.49 L623.32,250.21Z" fill="url(#gStar)" stroke="#eaa544" stroke-width="0.7" stroke-linejoin="round"/><path d="M597.20,265.00 L598.58,268.31 L602.15,268.59 L599.43,270.92 L600.26,274.41 L597.20,272.54 L594.14,274.41 L594.97,270.92 L592.25,268.59 L595.82,268.31Z" fill="url(#gStar)" stroke="#eaa544" stroke-width="0.7" stroke-linejoin="round"/><path d="M638.50,266.80 L639.88,270.11 L643.45,270.39 L640.73,272.72 L641.56,276.21 L638.50,274.34 L635.44,276.21 L636.27,272.72 L633.55,270.39 L637.12,270.11Z" fill="url(#gStar)" stroke="#eaa544" stroke-width="0.7" stroke-linejoin="round"/><rect x="487.4" y="313.2" width="147.10000000000002" height="15.5" rx="4" fill="#eef2fb" fill-opacity="0.75"/><text x="493.8" y="323.59999999999997" font-size="10.05" font-weight="bold" fill="#35508c">Hypoxia response difference</text></g><rect x="455.2" y="156" width="199.6" height="180.2" rx="5" fill="none" stroke="#5079bf" stroke-width="1.05"/><path d="M269.7 385.5 H436.1 L435.5 389.5 H270.3 Z" fill="#c3c9ec" stroke="#aeb5e2" stroke-width="0.5"/><path d="M273.9 380 H432 L433 385.5 H272.5 Z" fill="#d9ddf4" stroke="#b4bbe5" stroke-width="0.5"/><path d="M294.7 362.3 H411.2 L432 380.5 H273.9 Z" fill="url(#gPlate)" stroke="#b0b8e3" stroke-width="0.6"/><ellipse cx="299.70" cy="364.5" rx="3.9" ry="2.1" fill="#c99fdf"/><ellipse cx="310.43" cy="364.5" rx="3.9" ry="2.1" fill="#c99fdf"/><ellipse cx="321.16" cy="364.5" rx="3.9" ry="2.1" fill="#c99fdf"/><ellipse cx="331.89" cy="364.5" rx="3.9" ry="2.1" fill="#c99fdf"/><ellipse cx="342.62" cy="364.5" rx="3.9" ry="2.1" fill="#c99fdf"/><ellipse cx="353.35" cy="364.5" rx="3.9" ry="2.1" fill="#c99fdf"/><ellipse cx="364.08" cy="364.5" rx="3.9" ry="2.1" fill="#c99fdf"/><ellipse cx="374.81" cy="364.5" rx="3.9" ry="2.1" fill="#c99fdf"/><ellipse cx="385.54" cy="364.5" rx="3.9" ry="2.1" fill="#c99fdf"/><ellipse cx="396.27" cy="364.5" rx="3.9" ry="2.1" fill="#c99fdf"/><ellipse cx="407.00" cy="364.5" rx="3.9" ry="2.1" fill="#c99fdf"/><ellipse cx="292.70" cy="370.8" rx="4.5" ry="2.5" fill="#a5d78b"/><ellipse cx="304.69" cy="370.8" rx="4.5" ry="2.5" fill="#a5d78b"/><ellipse cx="316.68" cy="370.8" rx="4.5" ry="2.5" fill="#a5d78b"/><ellipse cx="328.67" cy="370.8" rx="4.5" ry="2.5" fill="#a5d78b"/><ellipse cx="340.66" cy="370.8" rx="4.5" ry="2.5" fill="#a5d78b"/><ellipse cx="352.65" cy="370.8" rx="4.5" ry="2.5" fill="#a5d78b"/><ellipse cx="364.64" cy="370.8" rx="4.5" ry="2.5" fill="#a5d78b"/><ellipse cx="376.63" cy="370.8" rx="4.5" ry="2.5" fill="#a5d78b"/><ellipse cx="388.62" cy="370.8" rx="4.5" ry="2.5" fill="#a5d78b"/><ellipse cx="400.61" cy="370.8" rx="4.5" ry="2.5" fill="#a5d78b"/><ellipse cx="412.60" cy="370.8" rx="4.5" ry="2.5" fill="#a5d78b"/><ellipse cx="285.00" cy="377.4" rx="5" ry="2.7" fill="#f8ca55"/><ellipse cx="298.53" cy="377.4" rx="5" ry="2.7" fill="#f8ca55"/><ellipse cx="312.06" cy="377.4" rx="5" ry="2.7" fill="#f8ca55"/><ellipse cx="325.59" cy="377.4" rx="5" ry="2.7" fill="#f8ca55"/><ellipse cx="339.12" cy="377.4" rx="5" ry="2.7" fill="#f8ca55"/><ellipse cx="352.65" cy="377.4" rx="5" ry="2.7" fill="#f8ca55"/><ellipse cx="366.18" cy="377.4" rx="5" ry="2.7" fill="#f8ca55"/><ellipse cx="379.71" cy="377.4" rx="5" ry="2.7" fill="#f8ca55"/><ellipse cx="393.24" cy="377.4" rx="5" ry="2.7" fill="#f8ca55"/><ellipse cx="406.77" cy="377.4" rx="5" ry="2.7" fill="#f8ca55"/><ellipse cx="420.30" cy="377.4" rx="5" ry="2.7" fill="#f8ca55"/>
<text x="25.299999999999997" y="482.95" transform="rotate(-90 25.299999999999997 482.95)" text-anchor="middle" dominant-baseline="middle" font-size="9.7" fill="#222">Internalized calixarenes (μM)</text>
<line x1="43.9" y1="448" x2="46.9" y2="448" stroke="#111" stroke-width="1.3"/>
<text x="41.699999999999996" y="451.4" text-anchor="end" font-size="9.8" fill="#222">20</text>
<line x1="43.9" y1="501.8" x2="46.9" y2="501.8" stroke="#111" stroke-width="1.3"/>
<text x="41.699999999999996" y="505.2" text-anchor="end" font-size="9.8" fill="#222">10</text>
<line x1="43.9" y1="555.9" x2="46.9" y2="555.9" stroke="#111" stroke-width="1.3"/>
<text x="41.699999999999996" y="559.3" text-anchor="end" font-size="9.8" fill="#222">0</text>
<rect x="59.8" y="454.3" width="20.900000000000006" height="101.59999999999997" fill="#a8c8e6" stroke="#5f5f5f" stroke-width="1.4"/>
<path d="M70.25 447.9V460.5M67.25 447.9H73.25M67.25 460.5H73.25" stroke="#555" stroke-width="1.2" fill="none"/>
<circle cx="63.4" cy="446.8" r="2.1" fill="#fff" stroke="#5a5a5a" stroke-width="1.1"/>
<circle cx="70.7" cy="453.8" r="2.1" fill="#fff" stroke="#5a5a5a" stroke-width="1.1"/>
<circle cx="77.4" cy="463.1" r="2.1" fill="#fff" stroke="#5a5a5a" stroke-width="1.1"/>
<line x1="70.25" y1="555.9" x2="70.25" y2="558.9" stroke="#111" stroke-width="1.3"/>
<text x="85.25" y="569.4" transform="rotate(-31 85.25 569.4)" text-anchor="end" font-size="10.1" fill="#222">ManAC4A</text>
<rect x="106.7" y="517.4" width="20.89999999999999" height="38.5" fill="#f0aac8" stroke="#5f5f5f" stroke-width="1.4"/>
<path d="M117.15 510.1V524.7M114.15 510.1H120.15M114.15 524.7H120.15" stroke="#555" stroke-width="1.2" fill="none"/>
<circle cx="110.1" cy="526.2" r="2.1" fill="#fff" stroke="#5a5a5a" stroke-width="1.1"/>
<circle cx="117.4" cy="516.8" r="2.1" fill="#fff" stroke="#5a5a5a" stroke-width="1.1"/>
<circle cx="124.1" cy="509.2" r="2.1" fill="#fff" stroke="#5a5a5a" stroke-width="1.1"/>
<line x1="117.15" y1="555.9" x2="117.15" y2="558.9" stroke="#111" stroke-width="1.3"/>
<text x="132.15" y="569.4" transform="rotate(-31 132.15 569.4)" text-anchor="end" font-size="10.1" fill="#222">LysAC4A</text>
<rect x="153.6" y="505.7" width="20.900000000000006" height="50.19999999999999" fill="#a8e4c2" stroke="#5f5f5f" stroke-width="1.4"/>
<path d="M164.05 501.4V510.7M161.05 501.4H167.05M161.05 510.7H167.05" stroke="#555" stroke-width="1.2" fill="none"/>
<circle cx="156.8" cy="503.4" r="2.1" fill="#fff" stroke="#5a5a5a" stroke-width="1.1"/>
<circle cx="164.1" cy="500.5" r="2.1" fill="#fff" stroke="#5a5a5a" stroke-width="1.1"/>
<circle cx="171.4" cy="513" r="2.1" fill="#fff" stroke="#5a5a5a" stroke-width="1.1"/>
<line x1="164.05" y1="555.9" x2="164.05" y2="558.9" stroke="#111" stroke-width="1.3"/>
<text x="179.05" y="569.4" transform="rotate(-31 179.05 569.4)" text-anchor="end" font-size="10.1" fill="#222">SerAC4A</text>
<rect x="200.5" y="530.5" width="20.900000000000006" height="25.399999999999977" fill="#f7cbbd" stroke="#5f5f5f" stroke-width="1.4"/>
<path d="M210.95 527.6V536.4M207.95 527.6H213.95M207.95 536.4H213.95" stroke="#555" stroke-width="1.2" fill="none"/>
<circle cx="204.1" cy="538.4" r="2.1" fill="#fff" stroke="#5a5a5a" stroke-width="1.1"/>
<circle cx="210.8" cy="523.8" r="2.1" fill="#fff" stroke="#5a5a5a" stroke-width="1.1"/>
<circle cx="218.1" cy="530" r="2.1" fill="#fff" stroke="#5a5a5a" stroke-width="1.1"/>
<line x1="210.95" y1="555.9" x2="210.95" y2="558.9" stroke="#111" stroke-width="1.3"/>
<text x="225.95" y="569.4" transform="rotate(-31 225.95 569.4)" text-anchor="end" font-size="10.1" fill="#222">CAC4A</text>
<path d="M46.9 410H234.2V555.9H46.9Z" fill="none" stroke="#111" stroke-width="1.85"/>
<text x="54.1" y="424.8" font-size="12.2" font-style="italic" fill="#222">SA</text>
<text x="250.25000000000003" y="482.95" transform="rotate(-90 250.25000000000003 482.95)" text-anchor="middle" dominant-baseline="middle" font-size="9.7" fill="#222">Internalized calixarenes (μM)</text>
<line x1="268.85" y1="451.7" x2="271.85" y2="451.7" stroke="#111" stroke-width="1.3"/>
<text x="266.65000000000003" y="455.09999999999997" text-anchor="end" font-size="9.8" fill="#222">20</text>
<line x1="268.85" y1="503.9" x2="271.85" y2="503.9" stroke="#111" stroke-width="1.3"/>
<text x="266.65000000000003" y="507.29999999999995" text-anchor="end" font-size="9.8" fill="#222">10</text>
<line x1="268.85" y1="555.9" x2="271.85" y2="555.9" stroke="#111" stroke-width="1.3"/>
<text x="266.65000000000003" y="559.3" text-anchor="end" font-size="9.8" fill="#222">0</text>
<rect x="284.8" y="466.9" width="20.899999999999977" height="89.0" fill="#a8c8e6" stroke="#5f5f5f" stroke-width="1.4"/>
<path d="M295.25 459V475M292.25 459H298.25M292.25 475H298.25" stroke="#555" stroke-width="1.2" fill="none"/>
<circle cx="287.8" cy="473.6" r="2.1" fill="#fff" stroke="#5a5a5a" stroke-width="1.1"/>
<circle cx="295.1" cy="472.2" r="2.1" fill="#fff" stroke="#5a5a5a" stroke-width="1.1"/>
<circle cx="302.1" cy="456.1" r="2.1" fill="#fff" stroke="#5a5a5a" stroke-width="1.1"/>
<line x1="295.25" y1="555.9" x2="295.25" y2="558.9" stroke="#111" stroke-width="1.3"/>
<text x="310.25" y="569.4" transform="rotate(-31 310.25 569.4)" text-anchor="end" font-size="10.1" fill="#222">ManAC4A</text>
<rect x="331.7" y="528.2" width="20.900000000000034" height="27.699999999999932" fill="#f0aac8" stroke="#5f5f5f" stroke-width="1.4"/>
<path d="M342.15 521.8V534.9M339.15 521.8H345.15M339.15 534.9H345.15" stroke="#555" stroke-width="1.2" fill="none"/>
<circle cx="335" cy="521.2" r="2.1" fill="#fff" stroke="#5a5a5a" stroke-width="1.1"/>
<circle cx="341.5" cy="527" r="2.1" fill="#fff" stroke="#5a5a5a" stroke-width="1.1"/>
<circle cx="349.1" cy="537" r="2.1" fill="#fff" stroke="#5a5a5a" stroke-width="1.1"/>
<line x1="342.15" y1="555.9" x2="342.15" y2="558.9" stroke="#111" stroke-width="1.3"/>
<text x="357.15" y="569.4" transform="rotate(-31 357.15 569.4)" text-anchor="end" font-size="10.1" fill="#222">LysAC4A</text>
<rect x="378.6" y="526.2" width="20.899999999999977" height="29.699999999999932" fill="#a8e4c2" stroke="#5f5f5f" stroke-width="1.4"/>
<path d="M389.05 524.7V527.6M386.05 524.7H392.05M386.05 527.6H392.05" stroke="#555" stroke-width="1.2" fill="none"/>
<circle cx="381.8" cy="525.3" r="2.1" fill="#fff" stroke="#5a5a5a" stroke-width="1.1"/>
<circle cx="389.1" cy="528.2" r="2.1" fill="#fff" stroke="#5a5a5a" stroke-width="1.1"/>
<circle cx="395.8" cy="524.7" r="2.1" fill="#fff" stroke="#5a5a5a" stroke-width="1.1"/>
<line x1="389.05" y1="555.9" x2="389.05" y2="558.9" stroke="#111" stroke-width="1.3"/>
<text x="404.05" y="569.4" transform="rotate(-31 404.05 569.4)" text-anchor="end" font-size="10.1" fill="#222">SerAC4A</text>
<rect x="425.5" y="539.3" width="20.899999999999977" height="16.600000000000023" fill="#f7cbbd" stroke="#5f5f5f" stroke-width="1.4"/>
<path d="M435.95 535.8V542.8M432.95 535.8H438.95M432.95 542.8H438.95" stroke="#555" stroke-width="1.2" fill="none"/>
<circle cx="428.5" cy="536.4" r="2.1" fill="#fff" stroke="#5a5a5a" stroke-width="1.1"/>
<circle cx="435.8" cy="536.4" r="2.1" fill="#fff" stroke="#5a5a5a" stroke-width="1.1"/>
<circle cx="442.5" cy="545.1" r="2.1" fill="#fff" stroke="#5a5a5a" stroke-width="1.1"/>
<line x1="435.95" y1="555.9" x2="435.95" y2="558.9" stroke="#111" stroke-width="1.3"/>
<text x="450.95" y="569.4" transform="rotate(-31 450.95 569.4)" text-anchor="end" font-size="10.1" fill="#222">CAC4A</text>
<path d="M271.85 410H459.0V555.9H271.85Z" fill="none" stroke="#111" stroke-width="1.85"/>
<text x="279.05" y="424.8" font-size="12.2" font-style="italic" fill="#222">MRSA</text>
<text x="474.45" y="482.95" transform="rotate(-90 474.45 482.95)" text-anchor="middle" dominant-baseline="middle" font-size="9.7" fill="#222">Internalized calixarenes (μM)</text>
<line x1="493.05" y1="410" x2="496.05" y2="410" stroke="#111" stroke-width="1.3"/>
<text x="490.85" y="413.4" text-anchor="end" font-size="9.8" fill="#222">20</text>
<line x1="493.05" y1="482.9" x2="496.05" y2="482.9" stroke="#111" stroke-width="1.3"/>
<text x="490.85" y="486.29999999999995" text-anchor="end" font-size="9.8" fill="#222">10</text>
<line x1="493.05" y1="555.9" x2="496.05" y2="555.9" stroke="#111" stroke-width="1.3"/>
<text x="490.85" y="559.3" text-anchor="end" font-size="9.8" fill="#222">0</text>
<rect x="509.2" y="458.1" width="20.900000000000034" height="97.79999999999995" fill="#a8c8e6" stroke="#5f5f5f" stroke-width="1.4"/>
<path d="M519.65 442.4V473.6M516.65 442.4H522.65M516.65 473.6H522.65" stroke="#555" stroke-width="1.2" fill="none"/>
<circle cx="512.2" cy="477.4" r="2.1" fill="#fff" stroke="#5a5a5a" stroke-width="1.1"/>
<circle cx="519.5" cy="440.6" r="2.1" fill="#fff" stroke="#5a5a5a" stroke-width="1.1"/>
<circle cx="526.8" cy="455.5" r="2.1" fill="#fff" stroke="#5a5a5a" stroke-width="1.1"/>
<line x1="519.65" y1="555.9" x2="519.65" y2="558.9" stroke="#111" stroke-width="1.3"/>
<text x="534.65" y="569.4" transform="rotate(-31 534.65 569.4)" text-anchor="end" font-size="10.1" fill="#222">ManAC4A</text>
<rect x="556.1" y="528.2" width="20.899999999999977" height="27.699999999999932" fill="#f0aac8" stroke="#5f5f5f" stroke-width="1.4"/>
<path d="M566.55 524.1V532.9M563.55 524.1H569.55M563.55 532.9H569.55" stroke="#555" stroke-width="1.2" fill="none"/>
<circle cx="559.5" cy="524.7" r="2.1" fill="#fff" stroke="#5a5a5a" stroke-width="1.1"/>
<circle cx="566.8" cy="533.5" r="2.1" fill="#fff" stroke="#5a5a5a" stroke-width="1.1"/>
<circle cx="573.5" cy="525.6" r="2.1" fill="#fff" stroke="#5a5a5a" stroke-width="1.1"/>
<line x1="566.55" y1="555.9" x2="566.55" y2="558.9" stroke="#111" stroke-width="1.3"/>
<text x="581.55" y="569.4" transform="rotate(-31 581.55 569.4)" text-anchor="end" font-size="10.1" fill="#222">LysAC4A</text>
<rect x="603.0" y="511" width="20.899999999999977" height="44.89999999999998" fill="#a8e4c2" stroke="#5f5f5f" stroke-width="1.4"/>
<path d="M613.45 508.1V513.6M610.45 508.1H616.45M610.45 513.6H616.45" stroke="#555" stroke-width="1.2" fill="none"/>
<circle cx="606.8" cy="513" r="2.1" fill="#fff" stroke="#5a5a5a" stroke-width="1.1"/>
<circle cx="613.5" cy="513.6" r="2.1" fill="#fff" stroke="#5a5a5a" stroke-width="1.1"/>
<circle cx="620.2" cy="506.3" r="2.1" fill="#fff" stroke="#5a5a5a" stroke-width="1.1"/>
<line x1="613.45" y1="555.9" x2="613.45" y2="558.9" stroke="#111" stroke-width="1.3"/>
<text x="628.45" y="569.4" transform="rotate(-31 628.45 569.4)" text-anchor="end" font-size="10.1" fill="#222">SerAC4A</text>
<rect x="649.9" y="548.6" width="20.899999999999977" height="7.2999999999999545" fill="#f7cbbd" stroke="#5f5f5f" stroke-width="1.4"/>
<path d="M660.3499999999999 546.6V552.4M657.3499999999999 546.6H663.3499999999999M657.3499999999999 552.4H663.3499999999999" stroke="#555" stroke-width="1.2" fill="none"/>
<circle cx="652.9" cy="553" r="2.1" fill="#fff" stroke="#5a5a5a" stroke-width="1.1"/>
<circle cx="660.2" cy="544.6" r="2.1" fill="#fff" stroke="#5a5a5a" stroke-width="1.1"/>
<circle cx="667.5" cy="548.6" r="2.1" fill="#fff" stroke="#5a5a5a" stroke-width="1.1"/>
<line x1="660.3499999999999" y1="555.9" x2="660.3499999999999" y2="558.9" stroke="#111" stroke-width="1.3"/>
<text x="675.3499999999999" y="569.4" transform="rotate(-31 675.3499999999999 569.4)" text-anchor="end" font-size="10.1" fill="#222">CAC4A</text>
<path d="M496.05 410H683.4V555.9H496.05Z" fill="none" stroke="#111" stroke-width="1.85"/>
<text x="503.25" y="424.8" font-size="12.2" font-style="italic" fill="#222">LM</text>
<text x="25.299999999999997" y="672.875" transform="rotate(-90 25.299999999999997 672.875)" text-anchor="middle" dominant-baseline="middle" font-size="9.7" fill="#222">Internalized calixarenes (μM)</text>
<line x1="43.9" y1="600" x2="46.9" y2="600" stroke="#111" stroke-width="1.3"/>
<text x="41.699999999999996" y="603.4" text-anchor="end" font-size="9.8" fill="#222">20</text>
<line x1="43.9" y1="672.6" x2="46.9" y2="672.6" stroke="#111" stroke-width="1.3"/>
<text x="41.699999999999996" y="676.0" text-anchor="end" font-size="9.8" fill="#222">10</text>
<line x1="43.9" y1="745.75" x2="46.9" y2="745.75" stroke="#111" stroke-width="1.3"/>
<text x="41.699999999999996" y="749.15" text-anchor="end" font-size="9.8" fill="#222">0</text>
<rect x="59.8" y="649.6" width="20.900000000000006" height="96.14999999999998" fill="#a8c8e6" stroke="#5f5f5f" stroke-width="1.4"/>
<path d="M70.25 640.3V659.8M67.25 640.3H73.25M67.25 659.8H73.25" stroke="#555" stroke-width="1.2" fill="none"/>
<circle cx="62.8" cy="656.3" r="2.1" fill="#fff" stroke="#5a5a5a" stroke-width="1.1"/>
<circle cx="70.1" cy="635.9" r="2.1" fill="#fff" stroke="#5a5a5a" stroke-width="1.1"/>
<circle cx="77.1" cy="657.8" r="2.1" fill="#fff" stroke="#5a5a5a" stroke-width="1.1"/>
<line x1="70.25" y1="745.75" x2="70.25" y2="748.75" stroke="#111" stroke-width="1.3"/>
<text x="85.25" y="759.25" transform="rotate(-31 85.25 759.25)" text-anchor="end" font-size="10.1" fill="#222">ManAC4A</text>
<rect x="106.7" y="696.6" width="20.89999999999999" height="49.14999999999998" fill="#f0aac8" stroke="#5f5f5f" stroke-width="1.4"/>
<path d="M117.15 691.4V702.4M114.15 691.4H120.15M114.15 702.4H120.15" stroke="#555" stroke-width="1.2" fill="none"/>
<circle cx="110.1" cy="704.5" r="2.1" fill="#fff" stroke="#5a5a5a" stroke-width="1.1"/>
<circle cx="117.4" cy="692.2" r="2.1" fill="#fff" stroke="#5a5a5a" stroke-width="1.1"/>
<circle cx="124.1" cy="693.7" r="2.1" fill="#fff" stroke="#5a5a5a" stroke-width="1.1"/>
<line x1="117.15" y1="745.75" x2="117.15" y2="748.75" stroke="#111" stroke-width="1.3"/>
<text x="132.15" y="759.25" transform="rotate(-31 132.15 759.25)" text-anchor="end" font-size="10.1" fill="#222">LysAC4A</text>
<rect x="153.6" y="703" width="20.900000000000006" height="42.75" fill="#a8e4c2" stroke="#5f5f5f" stroke-width="1.4"/>
<path d="M164.05 697.8V707.4M161.05 697.8H167.05M161.05 707.4H167.05" stroke="#555" stroke-width="1.2" fill="none"/>
<circle cx="156.8" cy="695.7" r="2.1" fill="#fff" stroke="#5a5a5a" stroke-width="1.1"/>
<circle cx="164.1" cy="707.4" r="2.1" fill="#fff" stroke="#5a5a5a" stroke-width="1.1"/>
<circle cx="170.8" cy="705.4" r="2.1" fill="#fff" stroke="#5a5a5a" stroke-width="1.1"/>
<line x1="164.05" y1="745.75" x2="164.05" y2="748.75" stroke="#111" stroke-width="1.3"/>
<text x="179.05" y="759.25" transform="rotate(-31 179.05 759.25)" text-anchor="end" font-size="10.1" fill="#222">SerAC4A</text>
<rect x="200.5" y="739.5" width="20.900000000000006" height="6.25" fill="#f7cbbd" stroke="#5f5f5f" stroke-width="1.4"/>
<path d="M210.95 733.1V744.5M207.95 733.1H213.95M207.95 744.5H213.95" stroke="#555" stroke-width="1.2" fill="none"/>
<circle cx="203.5" cy="730.2" r="2.1" fill="#fff" stroke="#5a5a5a" stroke-width="1.1"/>
<circle cx="210.8" cy="744.5" r="2.1" fill="#fff" stroke="#5a5a5a" stroke-width="1.1"/>
<circle cx="218.1" cy="744.5" r="2.1" fill="#fff" stroke="#5a5a5a" stroke-width="1.1"/>
<line x1="210.95" y1="745.75" x2="210.95" y2="748.75" stroke="#111" stroke-width="1.3"/>
<text x="225.95" y="759.25" transform="rotate(-31 225.95 759.25)" text-anchor="end" font-size="10.1" fill="#222">CAC4A</text>
<path d="M46.9 600H234.2V745.75H46.9Z" fill="none" stroke="#111" stroke-width="1.85"/>
<text x="54.1" y="614.8" font-size="12.2" font-style="italic" fill="#222">ST</text>
<text x="250.25000000000003" y="672.875" transform="rotate(-90 250.25000000000003 672.875)" text-anchor="middle" dominant-baseline="middle" font-size="9.7" fill="#222">Internalized calixarenes (μM)</text>
<line x1="268.85" y1="600" x2="271.85" y2="600" stroke="#111" stroke-width="1.3"/>
<text x="266.65000000000003" y="603.4" text-anchor="end" font-size="9.8" fill="#222">20</text>
<line x1="268.85" y1="672.6" x2="271.85" y2="672.6" stroke="#111" stroke-width="1.3"/>
<text x="266.65000000000003" y="676.0" text-anchor="end" font-size="9.8" fill="#222">10</text>
<line x1="268.85" y1="745.75" x2="271.85" y2="745.75" stroke="#111" stroke-width="1.3"/>
<text x="266.65000000000003" y="749.15" text-anchor="end" font-size="9.8" fill="#222">0</text>
<rect x="284.8" y="633.5" width="20.899999999999977" height="112.25" fill="#a8c8e6" stroke="#5f5f5f" stroke-width="1.4"/>
<path d="M295.25 629.2V637.3M292.25 629.2H298.25M292.25 637.3H298.25" stroke="#555" stroke-width="1.2" fill="none"/>
<circle cx="287.8" cy="630" r="2.1" fill="#fff" stroke="#5a5a5a" stroke-width="1.1"/>
<circle cx="294.8" cy="640.8" r="2.1" fill="#fff" stroke="#5a5a5a" stroke-width="1.1"/>
<circle cx="302.1" cy="630" r="2.1" fill="#fff" stroke="#5a5a5a" stroke-width="1.1"/>
<line x1="295.25" y1="745.75" x2="295.25" y2="748.75" stroke="#111" stroke-width="1.3"/>
<text x="310.25" y="759.25" transform="rotate(-31 310.25 759.25)" text-anchor="end" font-size="10.1" fill="#222">ManAC4A</text>
<rect x="331.7" y="711.8" width="20.900000000000034" height="33.950000000000045" fill="#f0aac8" stroke="#5f5f5f" stroke-width="1.4"/>
<path d="M342.15 705.4V717.6M339.15 705.4H345.15M339.15 717.6H345.15" stroke="#555" stroke-width="1.2" fill="none"/>
<circle cx="334.5" cy="715.3" r="2.1" fill="#fff" stroke="#5a5a5a" stroke-width="1.1"/>
<circle cx="341.5" cy="703" r="2.1" fill="#fff" stroke="#5a5a5a" stroke-width="1.1"/>
<circle cx="349.1" cy="716.2" r="2.1" fill="#fff" stroke="#5a5a5a" stroke-width="1.1"/>
<line x1="342.15" y1="745.75" x2="342.15" y2="748.75" stroke="#111" stroke-width="1.3"/>
<text x="357.15" y="759.25" transform="rotate(-31 357.15 759.25)" text-anchor="end" font-size="10.1" fill="#222">LysAC4A</text>
<rect x="378.6" y="710.9" width="20.899999999999977" height="34.85000000000002" fill="#a8e4c2" stroke="#5f5f5f" stroke-width="1.4"/>
<path d="M389.05 701.6V720.5M386.05 701.6H392.05M386.05 720.5H392.05" stroke="#555" stroke-width="1.2" fill="none"/>
<circle cx="381.8" cy="714.7" r="2.1" fill="#fff" stroke="#5a5a5a" stroke-width="1.1"/>
<circle cx="389.1" cy="697.2" r="2.1" fill="#fff" stroke="#5a5a5a" stroke-width="1.1"/>
<circle cx="395.8" cy="720" r="2.1" fill="#fff" stroke="#5a5a5a" stroke-width="1.1"/>
<line x1="389.05" y1="745.75" x2="389.05" y2="748.75" stroke="#111" stroke-width="1.3"/>
<text x="404.05" y="759.25" transform="rotate(-31 404.05 759.25)" text-anchor="end" font-size="10.1" fill="#222">SerAC4A</text>
<rect x="425.5" y="725.5" width="20.899999999999977" height="20.25" fill="#f7cbbd" stroke="#5f5f5f" stroke-width="1.4"/>
<path d="M435.95 720V731.6M432.95 720H438.95M432.95 731.6H438.95" stroke="#555" stroke-width="1.2" fill="none"/>
<circle cx="428.5" cy="719.7" r="2.1" fill="#fff" stroke="#5a5a5a" stroke-width="1.1"/>
<circle cx="435.8" cy="723.5" r="2.1" fill="#fff" stroke="#5a5a5a" stroke-width="1.1"/>
<circle cx="442.5" cy="733.7" r="2.1" fill="#fff" stroke="#5a5a5a" stroke-width="1.1"/>
<line x1="435.95" y1="745.75" x2="435.95" y2="748.75" stroke="#111" stroke-width="1.3"/>
<text x="450.95" y="759.25" transform="rotate(-31 450.95 759.25)" text-anchor="end" font-size="10.1" fill="#222">CAC4A</text>
<path d="M271.85 600H459.0V745.75H271.85Z" fill="none" stroke="#111" stroke-width="1.85"/>
<text x="279.05" y="614.8" font-size="12.2" font-style="italic" fill="#222">EC</text>
<text x="474.45" y="672.875" transform="rotate(-90 474.45 672.875)" text-anchor="middle" dominant-baseline="middle" font-size="9.7" fill="#222">Internalized calixarenes (μM)</text>
<line x1="493.05" y1="600" x2="496.05" y2="600" stroke="#111" stroke-width="1.3"/>
<text x="490.85" y="603.4" text-anchor="end" font-size="9.8" fill="#222">20</text>
<line x1="493.05" y1="672.6" x2="496.05" y2="672.6" stroke="#111" stroke-width="1.3"/>
<text x="490.85" y="676.0" text-anchor="end" font-size="9.8" fill="#222">10</text>
<line x1="493.05" y1="745.75" x2="496.05" y2="745.75" stroke="#111" stroke-width="1.3"/>
<text x="490.85" y="749.15" text-anchor="end" font-size="9.8" fill="#222">0</text>
<rect x="509.2" y="647" width="20.900000000000034" height="98.75" fill="#a8c8e6" stroke="#5f5f5f" stroke-width="1.4"/>
<path d="M519.65 644.6V650.5M516.65 644.6H522.65M516.65 650.5H522.65" stroke="#555" stroke-width="1.2" fill="none"/>
<circle cx="512.2" cy="646.7" r="2.1" fill="#fff" stroke="#5a5a5a" stroke-width="1.1"/>
<circle cx="519.5" cy="642.6" r="2.1" fill="#fff" stroke="#5a5a5a" stroke-width="1.1"/>
<circle cx="526.8" cy="651.4" r="2.1" fill="#fff" stroke="#5a5a5a" stroke-width="1.1"/>
<line x1="519.65" y1="745.75" x2="519.65" y2="748.75" stroke="#111" stroke-width="1.3"/>
<text x="534.65" y="759.25" transform="rotate(-31 534.65 759.25)" text-anchor="end" font-size="10.1" fill="#222">ManAC4A</text>
<rect x="556.1" y="710.9" width="20.899999999999977" height="34.85000000000002" fill="#f0aac8" stroke="#5f5f5f" stroke-width="1.4"/>
<path d="M566.55 707.4V714.1M563.55 707.4H569.55M563.55 714.1H569.55" stroke="#555" stroke-width="1.2" fill="none"/>
<circle cx="559.5" cy="708.9" r="2.1" fill="#fff" stroke="#5a5a5a" stroke-width="1.1"/>
<circle cx="566.8" cy="706.8" r="2.1" fill="#fff" stroke="#5a5a5a" stroke-width="1.1"/>
<circle cx="573.5" cy="715.6" r="2.1" fill="#fff" stroke="#5a5a5a" stroke-width="1.1"/>
<line x1="566.55" y1="745.75" x2="566.55" y2="748.75" stroke="#111" stroke-width="1.3"/>
<text x="581.55" y="759.25" transform="rotate(-31 581.55 759.25)" text-anchor="end" font-size="10.1" fill="#222">LysAC4A</text>
<rect x="603.0" y="691.4" width="20.899999999999977" height="54.35000000000002" fill="#a8e4c2" stroke="#5f5f5f" stroke-width="1.4"/>
<path d="M613.45 687V696.6M610.45 687H616.45M610.45 696.6H616.45" stroke="#555" stroke-width="1.2" fill="none"/>
<circle cx="606.2" cy="687.6" r="2.1" fill="#fff" stroke="#5a5a5a" stroke-width="1.1"/>
<circle cx="613.5" cy="688.4" r="2.1" fill="#fff" stroke="#5a5a5a" stroke-width="1.1"/>
<circle cx="620.2" cy="698.6" r="2.1" fill="#fff" stroke="#5a5a5a" stroke-width="1.1"/>
<line x1="613.45" y1="745.75" x2="613.45" y2="748.75" stroke="#111" stroke-width="1.3"/>
<text x="628.45" y="759.25" transform="rotate(-31 628.45 759.25)" text-anchor="end" font-size="10.1" fill="#222">SerAC4A</text>
<rect x="649.9" y="741.9" width="20.899999999999977" height="3.8500000000000227" fill="#f7cbbd" stroke="#5f5f5f" stroke-width="1.4"/>
<path d="M660.3499999999999 740V743.5M657.3499999999999 740H663.3499999999999M657.3499999999999 743.5H663.3499999999999" stroke="#555" stroke-width="1.2" fill="none"/>
<circle cx="652.9" cy="743" r="2.1" fill="#fff" stroke="#5a5a5a" stroke-width="1.1"/>
<circle cx="660.2" cy="739.5" r="2.1" fill="#fff" stroke="#5a5a5a" stroke-width="1.1"/>
<circle cx="667.5" cy="743" r="2.1" fill="#fff" stroke="#5a5a5a" stroke-width="1.1"/>
<line x1="660.3499999999999" y1="745.75" x2="660.3499999999999" y2="748.75" stroke="#111" stroke-width="1.3"/>
<text x="675.3499999999999" y="759.25" transform="rotate(-31 675.3499999999999 759.25)" text-anchor="end" font-size="10.1" fill="#222">CAC4A</text>
<path d="M496.05 600H683.4V745.75H496.05Z" fill="none" stroke="#111" stroke-width="1.85"/>
<text x="503.25" y="614.8" font-size="12.2" font-style="italic" fill="#222">PA</text>
<line x1="29.05" y1="888.8" x2="31.85" y2="888.8" stroke="#111" stroke-width="1.3"/>
<text x="28.05" y="892.0999999999999" text-anchor="end" font-size="9.4" fill="#222">0.0</text>
<line x1="29.05" y1="860.9" x2="31.85" y2="860.9" stroke="#111" stroke-width="1.3"/>
<text x="28.05" y="864.1999999999999" text-anchor="end" font-size="9.4" fill="#222">0.1</text>
<line x1="29.05" y1="833.0" x2="31.85" y2="833.0" stroke="#111" stroke-width="1.3"/>
<text x="28.05" y="836.3" text-anchor="end" font-size="9.4" fill="#222">0.2</text>
<line x1="29.05" y1="805.0999999999999" x2="31.85" y2="805.0999999999999" stroke="#111" stroke-width="1.3"/>
<text x="28.05" y="808.3999999999999" text-anchor="end" font-size="9.4" fill="#222">0.3</text>
<line x1="42.0" y1="903.1" x2="42.0" y2="905.9" stroke="#111" stroke-width="1.3"/>
<text x="42.0" y="914.7" text-anchor="middle" font-size="9.4" fill="#222">0</text>
<line x1="63.5" y1="903.1" x2="63.5" y2="905.9" stroke="#111" stroke-width="1.3"/>
<text x="63.5" y="914.7" text-anchor="middle" font-size="9.4" fill="#222">5</text>
<line x1="85.0" y1="903.1" x2="85.0" y2="905.9" stroke="#111" stroke-width="1.3"/>
<text x="85.0" y="914.7" text-anchor="middle" font-size="9.4" fill="#222">10</text>
<line x1="106.5" y1="903.1" x2="106.5" y2="905.9" stroke="#111" stroke-width="1.3"/>
<text x="106.5" y="914.7" text-anchor="middle" font-size="9.4" fill="#222">15</text>
<line x1="128.0" y1="903.1" x2="128.0" y2="905.9" stroke="#111" stroke-width="1.3"/>
<text x="128.0" y="914.7" text-anchor="middle" font-size="9.4" fill="#222">20</text>
<line x1="149.5" y1="903.1" x2="149.5" y2="905.9" stroke="#111" stroke-width="1.3"/>
<text x="149.5" y="914.7" text-anchor="middle" font-size="9.4" fill="#222">25</text>
<line x1="171.0" y1="903.1" x2="171.0" y2="905.9" stroke="#111" stroke-width="1.3"/>
<text x="171.0" y="914.7" text-anchor="middle" font-size="9.4" fill="#222">30</text>
<text x="9.850000000000001" y="847.55" transform="rotate(-90 9.850000000000001 847.55)" text-anchor="middle" dominant-baseline="middle" font-size="9.7" fill="#222">Absorbance at 420 nm</text>
<text x="101.225" y="929.6" text-anchor="middle" font-size="9.4" fill="#222">Time (min)</text>
<clipPath id="c1"><rect x="31.85" y="791" width="138.75" height="112.10000000000002"/></clipPath>
<g clip-path="url(#c1)">
<path d="M42.00,805.10 L42.69,809.17 L43.38,813.05 L44.07,816.73 L44.76,820.23 L45.45,823.56 L46.14,826.72 L46.83,829.73 L47.53,832.59 L48.22,835.31 L48.91,837.89 L49.60,840.35 L50.29,842.68 L50.98,844.90 L51.67,847.02 L52.36,849.02 L53.05,850.93 L53.74,852.74 L54.43,854.47 L55.12,856.11 L55.81,857.66 L56.50,859.14 L57.20,860.55 L57.89,861.89 L58.58,863.16 L59.27,864.37 L59.96,865.52 L60.65,866.62 L61.34,867.66 L62.03,868.64 L62.72,869.58 L63.41,870.48 L64.10,871.33 L64.79,872.13 L65.48,872.90 L66.17,873.63 L66.86,874.32 L67.56,874.98 L68.25,875.61 L68.94,876.20 L69.63,876.77 L70.32,877.31 L71.01,877.82 L71.70,878.31 L72.39,878.77 L73.08,879.21 L73.77,879.63 L74.46,880.03 L75.15,880.40 L75.84,880.76 L76.53,881.10 L77.23,881.43 L77.92,881.74 L78.61,882.03 L79.30,882.31 L79.99,882.58 L80.68,882.83 L81.37,883.07 L82.06,883.29 L82.75,883.51 L83.44,883.72 L84.13,883.91 L84.82,884.10 L85.51,884.28 L86.20,884.44 L86.89,884.60 L87.59,884.76 L88.28,884.90 L88.97,885.04 L89.66,885.17 L90.35,885.29 L91.04,885.41 L91.73,885.52 L92.42,885.63 L93.11,885.73 L93.80,885.83 L94.49,885.92 L95.18,886.01 L95.87,886.09 L96.56,886.17 L97.25,886.24 L97.95,886.31 L98.64,886.38 L99.33,886.45 L100.02,886.51 L100.71,886.56 L101.40,886.62 L102.09,886.67 L102.78,886.72 L103.47,886.77 L104.16,886.81 L104.85,886.86 L105.54,886.90 L106.23,886.94 L106.92,886.97 L107.62,887.01 L108.31,887.04 L109.00,887.07 L109.69,887.10 L110.38,887.13 L111.07,887.16 L111.76,887.19 L112.45,887.21 L113.14,887.23 L113.83,887.26 L114.52,887.28 L115.21,887.30 L115.90,887.32 L116.59,887.33 L117.28,887.35 L117.98,887.37 L118.67,887.38 L119.36,887.40 L120.05,887.41 L120.74,887.43 L121.43,887.44 L122.12,887.45 L122.81,887.46 L123.50,887.47 L124.19,887.48 L124.88,887.49 L125.57,887.50 L126.26,887.51 L126.95,887.52 L127.65,887.53 L128.34,887.54 L129.03,887.54 L129.72,887.55 L130.41,887.56 L131.10,887.56 L131.79,887.57 L132.48,887.57 L133.17,887.58 L133.86,887.59 L134.55,887.59 L135.24,887.59 L135.93,887.60 L136.62,887.60 L137.31,887.61 L138.01,887.61 L138.70,887.61 L139.39,887.62 L140.08,887.62 L140.77,887.62 L141.46,887.63 L142.15,887.63 L142.84,887.63 L143.53,887.64 L144.22,887.64 L144.91,887.64 L145.60,887.64 L146.29,887.64 L146.98,887.65 L147.68,887.65 L148.37,887.65 L149.06,887.65 L149.75,887.65 L150.44,887.65 L151.13,887.66 L151.82,887.66 L152.51,887.66" fill="none" stroke="#ec5a5e" stroke-width="2.2"/>
<path d="M42.00,798.12 L42.69,802.11 L43.38,805.93 L44.07,809.57 L44.76,813.05 L45.45,816.39 L46.14,819.57 L46.83,822.61 L47.53,825.53 L48.22,828.31 L48.91,830.97 L49.60,833.51 L50.29,835.94 L50.98,838.27 L51.67,840.49 L52.36,842.61 L53.05,844.65 L53.74,846.59 L54.43,848.44 L55.12,850.22 L55.81,851.92 L56.50,853.54 L57.20,855.09 L57.89,856.57 L58.58,857.99 L59.27,859.34 L59.96,860.64 L60.65,861.88 L61.34,863.06 L62.03,864.19 L62.72,865.28 L63.41,866.31 L64.10,867.30 L64.79,868.24 L65.48,869.15 L66.17,870.01 L66.86,870.84 L67.56,871.63 L68.25,872.38 L68.94,873.11 L69.63,873.80 L70.32,874.46 L71.01,875.09 L71.70,875.69 L72.39,876.27 L73.08,876.82 L73.77,877.34 L74.46,877.85 L75.15,878.33 L75.84,878.79 L76.53,879.23 L77.23,879.65 L77.92,880.05 L78.61,880.44 L79.30,880.81 L79.99,881.16 L80.68,881.49 L81.37,881.82 L82.06,882.12 L82.75,882.42 L83.44,882.70 L84.13,882.97 L84.82,883.22 L85.51,883.47 L86.20,883.70 L86.89,883.93 L87.59,884.14 L88.28,884.35 L88.97,884.54 L89.66,884.73 L90.35,884.91 L91.04,885.08 L91.73,885.24 L92.42,885.40 L93.11,885.55 L93.80,885.69 L94.49,885.83 L95.18,885.96 L95.87,886.08 L96.56,886.20 L97.25,886.32 L97.95,886.43 L98.64,886.53 L99.33,886.63 L100.02,886.73 L100.71,886.82 L101.40,886.90 L102.09,886.99 L102.78,887.07 L103.47,887.14 L104.16,887.22 L104.85,887.29 L105.54,887.35 L106.23,887.42 L106.92,887.48 L107.62,887.54 L108.31,887.59 L109.00,887.64 L109.69,887.70 L110.38,887.74 L111.07,887.79 L111.76,887.83 L112.45,887.88 L113.14,887.92 L113.83,887.96 L114.52,887.99 L115.21,888.03 L115.90,888.06 L116.59,888.10 L117.28,888.13 L117.98,888.16 L118.67,888.18 L119.36,888.21 L120.05,888.24 L120.74,888.26 L121.43,888.29 L122.12,888.31 L122.81,888.33 L123.50,888.35 L124.19,888.37 L124.88,888.39 L125.57,888.41 L126.26,888.42 L126.95,888.44 L127.65,888.46 L128.34,888.47 L129.03,888.49 L129.72,888.50 L130.41,888.51 L131.10,888.53 L131.79,888.54 L132.48,888.55 L133.17,888.56 L133.86,888.57 L134.55,888.58 L135.24,888.59 L135.93,888.60 L136.62,888.61 L137.31,888.62 L138.01,888.63 L138.70,888.63 L139.39,888.64 L140.08,888.65 L140.77,888.65 L141.46,888.66 L142.15,888.67 L142.84,888.67 L143.53,888.68 L144.22,888.68 L144.91,888.69 L145.60,888.69 L146.29,888.70 L146.98,888.70 L147.68,888.71 L148.37,888.71 L149.06,888.71 L149.75,888.72 L150.44,888.72 L151.13,888.73 L151.82,888.73 L152.51,888.73" fill="none" stroke="#3d9be9" stroke-width="2.2"/>
</g>
<path d="M31.85 791H170.6V903.1H31.85Z" fill="none" stroke="#111" stroke-width="1.8"/>
<text x="34.75" y="898.1" font-size="10.7" fill="#222">ManAC4A</text>
<text x="99.85" y="804.2" font-size="10.8" fill="#222"><tspan font-style="italic">A</tspan><tspan font-size="7" dy="2.5" font-style="italic">t</tspan><tspan dy="-2.5">=</tspan><tspan font-style="italic">A</tspan>'+<tspan font-style="italic">A</tspan><tspan font-size="7" dy="2.5">0</tspan><tspan dy="-2.5">e</tspan><tspan font-size="7" dy="-3.5">−</tspan><tspan font-size="7" font-style="italic">kt</tspan></text>
<text x="99.85" y="817.2" font-size="10.8" fill="#222"><tspan font-style="italic">k</tspan> = 0.28 min<tspan font-size="7" dy="-3.5">−1</tspan></text>
<text x="99.85" y="829.2" font-size="10.8" fill="#222"><tspan font-style="italic">t</tspan><tspan font-size="7" dy="2.5" font-style="italic">1/2</tspan><tspan dy="-2.5">= 2.48 min</tspan></text>
<line x1="197.7" y1="887.7" x2="200.5" y2="887.7" stroke="#111" stroke-width="1.3"/>
<text x="196.7" y="891.0" text-anchor="end" font-size="9.4" fill="#222">0.0</text>
<line x1="197.7" y1="866.1" x2="200.5" y2="866.1" stroke="#111" stroke-width="1.3"/>
<text x="196.7" y="869.4" text-anchor="end" font-size="9.4" fill="#222">0.1</text>
<line x1="197.7" y1="844.5" x2="200.5" y2="844.5" stroke="#111" stroke-width="1.3"/>
<text x="196.7" y="847.8" text-anchor="end" font-size="9.4" fill="#222">0.2</text>
<line x1="197.7" y1="822.9000000000001" x2="200.5" y2="822.9000000000001" stroke="#111" stroke-width="1.3"/>
<text x="196.7" y="826.2" text-anchor="end" font-size="9.4" fill="#222">0.3</text>
<line x1="197.7" y1="801.3000000000001" x2="200.5" y2="801.3000000000001" stroke="#111" stroke-width="1.3"/>
<text x="196.7" y="804.6" text-anchor="end" font-size="9.4" fill="#222">0.4</text>
<line x1="211.5" y1="902.9" x2="211.5" y2="905.6999999999999" stroke="#111" stroke-width="1.3"/>
<text x="211.5" y="914.5" text-anchor="middle" font-size="9.4" fill="#222">0</text>
<line x1="234.7" y1="902.9" x2="234.7" y2="905.6999999999999" stroke="#111" stroke-width="1.3"/>
<text x="234.7" y="914.5" text-anchor="middle" font-size="9.4" fill="#222">1</text>
<line x1="257.9" y1="902.9" x2="257.9" y2="905.6999999999999" stroke="#111" stroke-width="1.3"/>
<text x="257.9" y="914.5" text-anchor="middle" font-size="9.4" fill="#222">2</text>
<line x1="281.1" y1="902.9" x2="281.1" y2="905.6999999999999" stroke="#111" stroke-width="1.3"/>
<text x="281.1" y="914.5" text-anchor="middle" font-size="9.4" fill="#222">3</text>
<line x1="304.3" y1="902.9" x2="304.3" y2="905.6999999999999" stroke="#111" stroke-width="1.3"/>
<text x="304.3" y="914.5" text-anchor="middle" font-size="9.4" fill="#222">4</text>
<line x1="327.5" y1="902.9" x2="327.5" y2="905.6999999999999" stroke="#111" stroke-width="1.3"/>
<text x="327.5" y="914.5" text-anchor="middle" font-size="9.4" fill="#222">5</text>
<text x="178.5" y="847.45" transform="rotate(-90 178.5 847.45)" text-anchor="middle" dominant-baseline="middle" font-size="9.7" fill="#222">Absorbance at 420 nm</text>
<text x="269.625" y="929.4" text-anchor="middle" font-size="9.4" fill="#222">Time (min)</text>
<clipPath id="c2"><rect x="200.5" y="791" width="138.25" height="111.89999999999998"/></clipPath>
<g clip-path="url(#c2)">
<path d="M211.50,800.87 L212.18,806.83 L212.85,812.38 L213.53,817.55 L214.21,822.36 L214.89,826.84 L215.56,831.01 L216.24,834.89 L216.92,838.51 L217.59,841.87 L218.27,845.01 L218.95,847.92 L219.63,850.64 L220.30,853.17 L220.98,855.52 L221.66,857.71 L222.33,859.75 L223.01,861.65 L223.69,863.42 L224.37,865.06 L225.04,866.60 L225.72,868.02 L226.40,869.35 L227.07,870.59 L227.75,871.74 L228.43,872.81 L229.11,873.81 L229.78,874.74 L230.46,875.60 L231.14,876.41 L231.81,877.16 L232.49,877.85 L233.17,878.50 L233.85,879.11 L234.52,879.67 L235.20,880.20 L235.88,880.68 L236.55,881.14 L237.23,881.56 L237.91,881.96 L238.59,882.32 L239.26,882.66 L239.94,882.98 L240.62,883.28 L241.29,883.55 L241.97,883.81 L242.65,884.05 L243.33,884.27 L244.00,884.48 L244.68,884.67 L245.36,884.85 L246.03,885.02 L246.71,885.17 L247.39,885.32 L248.07,885.45 L248.74,885.58 L249.42,885.69 L250.10,885.80 L250.77,885.90 L251.45,886.00 L252.13,886.08 L252.81,886.17 L253.48,886.24 L254.16,886.31 L254.84,886.38 L255.51,886.44 L256.19,886.50 L256.87,886.55 L257.55,886.60 L258.22,886.65 L258.90,886.69 L259.58,886.73 L260.25,886.77 L260.93,886.80 L261.61,886.83 L262.29,886.86 L262.96,886.89 L263.64,886.92 L264.32,886.94 L264.99,886.96 L265.67,886.98 L266.35,887.00 L267.03,887.02 L267.70,887.04 L268.38,887.06 L269.06,887.07 L269.73,887.08 L270.41,887.10 L271.09,887.11 L271.77,887.12 L272.44,887.13 L273.12,887.14 L273.80,887.15 L274.47,887.16 L275.15,887.16 L275.83,887.17 L276.51,887.18 L277.18,887.18 L277.86,887.19 L278.54,887.20 L279.22,887.20 L279.89,887.20 L280.57,887.21 L281.25,887.21 L281.92,887.22 L282.60,887.22 L283.28,887.22 L283.96,887.23 L284.63,887.23 L285.31,887.23 L285.99,887.23 L286.66,887.24 L287.34,887.24 L288.02,887.24 L288.70,887.24 L289.37,887.24 L290.05,887.25 L290.73,887.25 L291.40,887.25 L292.08,887.25 L292.76,887.25 L293.44,887.25 L294.11,887.25 L294.79,887.25 L295.47,887.26 L296.14,887.26 L296.82,887.26 L297.50,887.26 L298.18,887.26 L298.85,887.26 L299.53,887.26 L300.21,887.26 L300.88,887.26 L301.56,887.26 L302.24,887.26 L302.92,887.26 L303.59,887.26 L304.27,887.26 L304.95,887.26 L305.62,887.26 L306.30,887.26 L306.98,887.26 L307.66,887.26 L308.33,887.26 L309.01,887.27 L309.69,887.27 L310.36,887.27 L311.04,887.27 L311.72,887.27 L312.40,887.27 L313.07,887.27 L313.75,887.27 L314.43,887.27 L315.10,887.27 L315.78,887.27 L316.46,887.27 L317.14,887.27 L317.81,887.27 L318.49,887.27 L319.17,887.27 L319.84,887.27" fill="none" stroke="#ec5a5e" stroke-width="2.2"/>
<path d="M211.50,800.22 L212.18,805.30 L212.85,810.09 L213.53,814.59 L214.21,818.84 L214.89,822.84 L215.56,826.61 L216.24,830.15 L216.92,833.50 L217.59,836.65 L218.27,839.61 L218.95,842.40 L219.63,845.03 L220.30,847.51 L220.98,849.85 L221.66,852.04 L222.33,854.12 L223.01,856.07 L223.69,857.90 L224.37,859.63 L225.04,861.26 L225.72,862.80 L226.40,864.25 L227.07,865.61 L227.75,866.89 L228.43,868.10 L229.11,869.24 L229.78,870.31 L230.46,871.32 L231.14,872.27 L231.81,873.17 L232.49,874.01 L233.17,874.81 L233.85,875.56 L234.52,876.26 L235.20,876.93 L235.88,877.55 L236.55,878.14 L237.23,878.70 L237.91,879.22 L238.59,879.71 L239.26,880.18 L239.94,880.61 L240.62,881.02 L241.29,881.41 L241.97,881.78 L242.65,882.12 L243.33,882.44 L244.00,882.75 L244.68,883.04 L245.36,883.31 L246.03,883.56 L246.71,883.80 L247.39,884.03 L248.07,884.24 L248.74,884.44 L249.42,884.63 L250.10,884.81 L250.77,884.98 L251.45,885.14 L252.13,885.29 L252.81,885.43 L253.48,885.56 L254.16,885.68 L254.84,885.80 L255.51,885.91 L256.19,886.01 L256.87,886.11 L257.55,886.20 L258.22,886.29 L258.90,886.37 L259.58,886.45 L260.25,886.52 L260.93,886.59 L261.61,886.66 L262.29,886.72 L262.96,886.77 L263.64,886.83 L264.32,886.88 L264.99,886.93 L265.67,886.97 L266.35,887.01 L267.03,887.05 L267.70,887.09 L268.38,887.13 L269.06,887.16 L269.73,887.19 L270.41,887.22 L271.09,887.25 L271.77,887.27 L272.44,887.30 L273.12,887.32 L273.80,887.34 L274.47,887.36 L275.15,887.38 L275.83,887.40 L276.51,887.42 L277.18,887.44 L277.86,887.45 L278.54,887.47 L279.22,887.48 L279.89,887.49 L280.57,887.50 L281.25,887.52 L281.92,887.53 L282.60,887.54 L283.28,887.55 L283.96,887.55 L284.63,887.56 L285.31,887.57 L285.99,887.58 L286.66,887.59 L287.34,887.59 L288.02,887.60 L288.70,887.60 L289.37,887.61 L290.05,887.62 L290.73,887.62 L291.40,887.62 L292.08,887.63 L292.76,887.63 L293.44,887.64 L294.11,887.64 L294.79,887.64 L295.47,887.65 L296.14,887.65 L296.82,887.65 L297.50,887.66 L298.18,887.66 L298.85,887.66 L299.53,887.66 L300.21,887.67 L300.88,887.67 L301.56,887.67 L302.24,887.67 L302.92,887.67 L303.59,887.67 L304.27,887.68 L304.95,887.68 L305.62,887.68 L306.30,887.68 L306.98,887.68 L307.66,887.68 L308.33,887.68 L309.01,887.68 L309.69,887.69 L310.36,887.69 L311.04,887.69 L311.72,887.69 L312.40,887.69 L313.07,887.69 L313.75,887.69 L314.43,887.69 L315.10,887.69 L315.78,887.69 L316.46,887.69 L317.14,887.69 L317.81,887.69 L318.49,887.69 L319.17,887.69 L319.84,887.69" fill="none" stroke="#3d9be9" stroke-width="2.2"/>
</g>
<path d="M200.5 791H338.75V902.9H200.5Z" fill="none" stroke="#111" stroke-width="1.8"/>
<text x="203.4" y="897.9" font-size="10.7" fill="#222">LysAC4A</text>
<text x="268.5" y="804.2" font-size="10.8" fill="#222"><tspan font-style="italic">A</tspan><tspan font-size="7" dy="2.5" font-style="italic">t</tspan><tspan dy="-2.5">=</tspan><tspan font-style="italic">A</tspan>'+<tspan font-style="italic">A</tspan><tspan font-size="7" dy="2.5">0</tspan><tspan dy="-2.5">e</tspan><tspan font-size="7" dy="-3.5">−</tspan><tspan font-size="7" font-style="italic">kt</tspan></text>
<text x="268.5" y="817.2" font-size="10.8" fill="#222"><tspan font-style="italic">k</tspan> = 2.05 min<tspan font-size="7" dy="-3.5">−1</tspan></text>
<text x="268.5" y="829.2" font-size="10.8" fill="#222"><tspan font-style="italic">t</tspan><tspan font-size="7" dy="2.5" font-style="italic">1/2</tspan><tspan dy="-2.5">= 0.34 min</tspan></text>
<line x1="367.34999999999997" y1="889.3" x2="370.15" y2="889.3" stroke="#111" stroke-width="1.3"/>
<text x="366.34999999999997" y="892.5999999999999" text-anchor="end" font-size="9.4" fill="#222">0.0</text>
<line x1="367.34999999999997" y1="856.5" x2="370.15" y2="856.5" stroke="#111" stroke-width="1.3"/>
<text x="366.34999999999997" y="859.8" text-anchor="end" font-size="9.4" fill="#222">0.1</text>
<line x1="367.34999999999997" y1="823.6999999999999" x2="370.15" y2="823.6999999999999" stroke="#111" stroke-width="1.3"/>
<text x="366.34999999999997" y="826.9999999999999" text-anchor="end" font-size="9.4" fill="#222">0.2</text>
<line x1="367.34999999999997" y1="790.9" x2="370.15" y2="790.9" stroke="#111" stroke-width="1.3"/>
<text x="366.34999999999997" y="794.1999999999999" text-anchor="end" font-size="9.4" fill="#222">0.3</text>
<line x1="382.8" y1="902.8" x2="382.8" y2="905.5999999999999" stroke="#111" stroke-width="1.3"/>
<text x="382.8" y="914.4" text-anchor="middle" font-size="9.4" fill="#222">0</text>
<line x1="407.8" y1="902.8" x2="407.8" y2="905.5999999999999" stroke="#111" stroke-width="1.3"/>
<text x="407.8" y="914.4" text-anchor="middle" font-size="9.4" fill="#222">2</text>
<line x1="432.8" y1="902.8" x2="432.8" y2="905.5999999999999" stroke="#111" stroke-width="1.3"/>
<text x="432.8" y="914.4" text-anchor="middle" font-size="9.4" fill="#222">4</text>
<line x1="457.8" y1="902.8" x2="457.8" y2="905.5999999999999" stroke="#111" stroke-width="1.3"/>
<text x="457.8" y="914.4" text-anchor="middle" font-size="9.4" fill="#222">6</text>
<line x1="482.8" y1="902.8" x2="482.8" y2="905.5999999999999" stroke="#111" stroke-width="1.3"/>
<text x="482.8" y="914.4" text-anchor="middle" font-size="9.4" fill="#222">8</text>
<line x1="507.8" y1="902.8" x2="507.8" y2="905.5999999999999" stroke="#111" stroke-width="1.3"/>
<text x="507.8" y="914.4" text-anchor="middle" font-size="9.4" fill="#222">10</text>
<text x="348.15" y="847.4" transform="rotate(-90 348.15 847.4)" text-anchor="middle" dominant-baseline="middle" font-size="9.7" fill="#222">Absorbance at 420 nm</text>
<text x="439.45" y="929.3" text-anchor="middle" font-size="9.4" fill="#222">Time (min)</text>
<clipPath id="c3"><rect x="370.15" y="791" width="138.60000000000002" height="111.79999999999995"/></clipPath>
<g clip-path="url(#c3)">
<path d="M382.18,795.88 L382.84,802.46 L383.51,808.56 L384.18,814.22 L384.85,819.46 L385.51,824.31 L386.18,828.81 L386.85,832.98 L387.52,836.85 L388.19,840.43 L388.85,843.76 L389.52,846.84 L390.19,849.69 L390.86,852.34 L391.53,854.80 L392.19,857.08 L392.86,859.20 L393.53,861.16 L394.20,862.98 L394.87,864.67 L395.53,866.24 L396.20,867.70 L396.87,869.05 L397.54,870.30 L398.21,871.47 L398.87,872.55 L399.54,873.56 L400.21,874.50 L400.88,875.37 L401.55,876.18 L402.21,876.93 L402.88,877.63 L403.55,878.28 L404.22,878.89 L404.89,879.45 L405.55,879.98 L406.22,880.47 L406.89,880.92 L407.56,881.35 L408.23,881.74 L408.89,882.11 L409.56,882.46 L410.23,882.78 L410.90,883.08 L411.57,883.36 L412.23,883.63 L412.90,883.87 L413.57,884.10 L414.24,884.32 L414.91,884.52 L415.57,884.71 L416.24,884.88 L416.91,885.05 L417.58,885.21 L418.25,885.35 L418.91,885.49 L419.58,885.62 L420.25,885.74 L420.92,885.85 L421.59,885.96 L422.25,886.06 L422.92,886.16 L423.59,886.25 L424.26,886.33 L424.93,886.41 L425.59,886.49 L426.26,886.56 L426.93,886.63 L427.60,886.69 L428.26,886.76 L428.93,886.81 L429.60,886.87 L430.27,886.92 L430.94,886.97 L431.60,887.02 L432.27,887.06 L432.94,887.11 L433.61,887.15 L434.28,887.19 L434.94,887.22 L435.61,887.26 L436.28,887.29 L436.95,887.33 L437.62,887.36 L438.28,887.39 L438.95,887.41 L439.62,887.44 L440.29,887.47 L440.96,887.49 L441.62,887.52 L442.29,887.54 L442.96,887.56 L443.63,887.59 L444.30,887.61 L444.96,887.63 L445.63,887.65 L446.30,887.66 L446.97,887.68 L447.64,887.70 L448.30,887.72 L448.97,887.73 L449.64,887.75 L450.31,887.76 L450.98,887.78 L451.64,887.79 L452.31,887.81 L452.98,887.82 L453.65,887.83 L454.32,887.85 L454.98,887.86 L455.65,887.87 L456.32,887.88 L456.99,887.89 L457.66,887.90 L458.32,887.91 L458.99,887.92 L459.66,887.93 L460.33,887.94 L461.00,887.95 L461.66,887.96 L462.33,887.97 L463.00,887.98 L463.67,887.99 L464.34,888.00 L465.00,888.00 L465.67,888.01 L466.34,888.02 L467.01,888.03 L467.68,888.03 L468.34,888.04 L469.01,888.05 L469.68,888.05 L470.35,888.06 L471.01,888.07 L471.68,888.07 L472.35,888.08 L473.02,888.08 L473.69,888.09 L474.35,888.10 L475.02,888.10 L475.69,888.11 L476.36,888.11 L477.03,888.12 L477.69,888.12 L478.36,888.13 L479.03,888.13 L479.70,888.13 L480.37,888.14 L481.03,888.14 L481.70,888.15 L482.37,888.15 L483.04,888.16 L483.71,888.16 L484.37,888.16 L485.04,888.17 L485.71,888.17 L486.38,888.17 L487.05,888.18 L487.71,888.18 L488.38,888.18 L489.05,888.19" fill="none" stroke="#ec5a5e" stroke-width="2.2"/>
<path d="M382.80,781.06 L383.46,790.04 L384.13,798.27 L384.79,805.82 L385.46,812.75 L386.12,819.10 L386.78,824.92 L387.45,830.26 L388.11,835.16 L388.78,839.65 L389.44,843.77 L390.10,847.54 L390.77,851.01 L391.43,854.18 L392.10,857.10 L392.76,859.77 L393.43,862.22 L394.09,864.46 L394.75,866.52 L395.42,868.41 L396.08,870.15 L396.75,871.74 L397.41,873.19 L398.07,874.53 L398.74,875.75 L399.40,876.88 L400.07,877.91 L400.73,878.85 L401.39,879.72 L402.06,880.51 L402.72,881.24 L403.39,881.91 L404.05,882.52 L404.71,883.09 L405.38,883.60 L406.04,884.07 L406.71,884.51 L407.37,884.91 L408.03,885.27 L408.70,885.60 L409.36,885.91 L410.03,886.19 L410.69,886.45 L411.35,886.69 L412.02,886.90 L412.68,887.10 L413.35,887.28 L414.01,887.45 L414.68,887.60 L415.34,887.75 L416.00,887.87 L416.67,887.99 L417.33,888.10 L418.00,888.20 L418.66,888.29 L419.32,888.38 L419.99,888.45 L420.65,888.52 L421.32,888.59 L421.98,888.65 L422.64,888.70 L423.31,888.75 L423.97,888.80 L424.64,888.84 L425.30,888.88 L425.96,888.91 L426.63,888.94 L427.29,888.97 L427.96,889.00 L428.62,889.02 L429.28,889.05 L429.95,889.07 L430.61,889.09 L431.28,889.11 L431.94,889.12 L432.60,889.14 L433.27,889.15 L433.93,889.16 L434.60,889.17 L435.26,889.18 L435.93,889.19 L436.59,889.20 L437.25,889.21 L437.92,889.22 L438.58,889.22 L439.25,889.23 L439.91,889.24 L440.57,889.24 L441.24,889.25 L441.90,889.25 L442.57,889.26 L443.23,889.26 L443.89,889.26 L444.56,889.27 L445.22,889.27 L445.89,889.27 L446.55,889.27 L447.21,889.28 L447.88,889.28 L448.54,889.28 L449.21,889.28 L449.87,889.28 L450.53,889.28 L451.20,889.29 L451.86,889.29 L452.53,889.29 L453.19,889.29 L453.85,889.29 L454.52,889.29 L455.18,889.29 L455.85,889.29 L456.51,889.29 L457.18,889.29 L457.84,889.29 L458.50,889.29 L459.17,889.29 L459.83,889.30 L460.50,889.30 L461.16,889.30 L461.82,889.30 L462.49,889.30 L463.15,889.30 L463.82,889.30 L464.48,889.30 L465.14,889.30 L465.81,889.30 L466.47,889.30 L467.14,889.30 L467.80,889.30 L468.46,889.30 L469.13,889.30 L469.79,889.30 L470.46,889.30 L471.12,889.30 L471.78,889.30 L472.45,889.30 L473.11,889.30 L473.78,889.30 L474.44,889.30 L475.10,889.30 L475.77,889.30 L476.43,889.30 L477.10,889.30 L477.76,889.30 L478.43,889.30 L479.09,889.30 L479.75,889.30 L480.42,889.30 L481.08,889.30 L481.75,889.30 L482.41,889.30 L483.07,889.30 L483.74,889.30 L484.40,889.30 L485.07,889.30 L485.73,889.30 L486.39,889.30 L487.06,889.30 L487.72,889.30 L488.39,889.30 L489.05,889.30" fill="none" stroke="#3d9be9" stroke-width="2.2"/>
</g>
<path d="M370.15 791H508.75V902.8H370.15Z" fill="none" stroke="#111" stroke-width="1.8"/>
<text x="373.04999999999995" y="897.8" font-size="10.7" fill="#222">SerAC4A</text>
<text x="438.15" y="804.2" font-size="10.8" fill="#222"><tspan font-style="italic">A</tspan><tspan font-size="7" dy="2.5" font-style="italic">t</tspan><tspan dy="-2.5">=</tspan><tspan font-style="italic">A</tspan>'+<tspan font-style="italic">A</tspan><tspan font-size="7" dy="2.5">0</tspan><tspan dy="-2.5">e</tspan><tspan font-size="7" dy="-3.5">−</tspan><tspan font-size="7" font-style="italic">kt</tspan></text>
<text x="438.15" y="817.2" font-size="10.8" fill="#222"><tspan font-style="italic">k</tspan> = 1.63 min<tspan font-size="7" dy="-3.5">−1</tspan></text>
<text x="438.15" y="829.2" font-size="10.8" fill="#222"><tspan font-style="italic">t</tspan><tspan font-size="7" dy="2.5" font-style="italic">1/2</tspan><tspan dy="-2.5">= 0.43 min</tspan></text>
<line x1="541.0" y1="884.8" x2="543.8" y2="884.8" stroke="#111" stroke-width="1.3"/>
<text x="540.0" y="888.0999999999999" text-anchor="end" font-size="9.4" fill="#222">0.0</text>
<line x1="541.0" y1="859.4" x2="543.8" y2="859.4" stroke="#111" stroke-width="1.3"/>
<text x="540.0" y="862.6999999999999" text-anchor="end" font-size="9.4" fill="#222">0.1</text>
<line x1="541.0" y1="834.0" x2="543.8" y2="834.0" stroke="#111" stroke-width="1.3"/>
<text x="540.0" y="837.3" text-anchor="end" font-size="9.4" fill="#222">0.2</text>
<line x1="541.0" y1="808.5999999999999" x2="543.8" y2="808.5999999999999" stroke="#111" stroke-width="1.3"/>
<text x="540.0" y="811.8999999999999" text-anchor="end" font-size="9.4" fill="#222">0.3</text>
<line x1="554.1" y1="902.5" x2="554.1" y2="905.3" stroke="#111" stroke-width="1.3"/>
<text x="554.1" y="914.1" text-anchor="middle" font-size="9.4" fill="#222">0</text>
<line x1="575.35" y1="902.5" x2="575.35" y2="905.3" stroke="#111" stroke-width="1.3"/>
<text x="575.35" y="914.1" text-anchor="middle" font-size="9.4" fill="#222">1</text>
<line x1="596.6" y1="902.5" x2="596.6" y2="905.3" stroke="#111" stroke-width="1.3"/>
<text x="596.6" y="914.1" text-anchor="middle" font-size="9.4" fill="#222">2</text>
<line x1="617.85" y1="902.5" x2="617.85" y2="905.3" stroke="#111" stroke-width="1.3"/>
<text x="617.85" y="914.1" text-anchor="middle" font-size="9.4" fill="#222">3</text>
<line x1="639.1" y1="902.5" x2="639.1" y2="905.3" stroke="#111" stroke-width="1.3"/>
<text x="639.1" y="914.1" text-anchor="middle" font-size="9.4" fill="#222">4</text>
<line x1="660.35" y1="902.5" x2="660.35" y2="905.3" stroke="#111" stroke-width="1.3"/>
<text x="660.35" y="914.1" text-anchor="middle" font-size="9.4" fill="#222">5</text>
<line x1="681.6" y1="902.5" x2="681.6" y2="905.3" stroke="#111" stroke-width="1.3"/>
<text x="681.6" y="914.1" text-anchor="middle" font-size="9.4" fill="#222">6</text>
<text x="521.8" y="847.25" transform="rotate(-90 521.8 847.25)" text-anchor="middle" dominant-baseline="middle" font-size="9.7" fill="#222">Absorbance at 420 nm</text>
<text x="612.9" y="929.0" text-anchor="middle" font-size="9.4" fill="#222">Time (min)</text>
<clipPath id="c4"><rect x="543.8" y="791" width="138.20000000000005" height="111.5"/></clipPath>
<g clip-path="url(#c4)">
<path d="M554.10,798.95 L554.78,809.21 L555.47,818.23 L556.15,826.17 L556.83,833.15 L557.51,839.28 L558.20,844.68 L558.88,849.43 L559.56,853.60 L560.24,857.27 L560.93,860.50 L561.61,863.34 L562.29,865.83 L562.97,868.03 L563.66,869.96 L564.34,871.66 L565.02,873.15 L565.71,874.46 L566.39,875.62 L567.07,876.63 L567.75,877.53 L568.44,878.31 L569.12,879.00 L569.80,879.61 L570.48,880.14 L571.17,880.61 L571.85,881.03 L572.53,881.39 L573.21,881.71 L573.90,881.99 L574.58,882.24 L575.26,882.45 L575.95,882.64 L576.63,882.81 L577.31,882.96 L577.99,883.09 L578.68,883.20 L579.36,883.31 L580.04,883.39 L580.72,883.47 L581.41,883.54 L582.09,883.60 L582.77,883.65 L583.45,883.70 L584.14,883.74 L584.82,883.78 L585.50,883.81 L586.18,883.84 L586.87,883.86 L587.55,883.88 L588.23,883.90 L588.92,883.92 L589.60,883.93 L590.28,883.94 L590.96,883.96 L591.65,883.97 L592.33,883.97 L593.01,883.98 L593.69,883.99 L594.38,883.99 L595.06,884.00 L595.74,884.00 L596.42,884.01 L597.11,884.01 L597.79,884.02 L598.47,884.02 L599.16,884.02 L599.84,884.02 L600.52,884.02 L601.20,884.03 L601.89,884.03 L602.57,884.03 L603.25,884.03 L603.93,884.03 L604.62,884.03 L605.30,884.03 L605.98,884.03 L606.66,884.03 L607.35,884.03 L608.03,884.03 L608.71,884.04 L609.40,884.04 L610.08,884.04 L610.76,884.04 L611.44,884.04 L612.13,884.04 L612.81,884.04 L613.49,884.04 L614.17,884.04 L614.86,884.04 L615.54,884.04 L616.22,884.04 L616.90,884.04 L617.59,884.04 L618.27,884.04 L618.95,884.04 L619.63,884.04 L620.32,884.04 L621.00,884.04 L621.68,884.04 L622.37,884.04 L623.05,884.04 L623.73,884.04 L624.41,884.04 L625.10,884.04 L625.78,884.04 L626.46,884.04 L627.14,884.04 L627.83,884.04 L628.51,884.04 L629.19,884.04 L629.87,884.04 L630.56,884.04 L631.24,884.04 L631.92,884.04 L632.61,884.04 L633.29,884.04 L633.97,884.04 L634.65,884.04 L635.34,884.04 L636.02,884.04 L636.70,884.04 L637.38,884.04 L638.07,884.04 L638.75,884.04 L639.43,884.04 L640.11,884.04 L640.80,884.04 L641.48,884.04 L642.16,884.04 L642.85,884.04 L643.53,884.04 L644.21,884.04 L644.89,884.04 L645.58,884.04 L646.26,884.04 L646.94,884.04 L647.62,884.04 L648.31,884.04 L648.99,884.04 L649.67,884.04 L650.35,884.04 L651.04,884.04 L651.72,884.04 L652.40,884.04 L653.09,884.04 L653.77,884.04 L654.45,884.04 L655.13,884.04 L655.82,884.04 L656.50,884.04 L657.18,884.04 L657.86,884.04 L658.55,884.04 L659.23,884.04 L659.91,884.04 L660.59,884.04 L661.28,884.04 L661.96,884.04 L662.64,884.04 L663.33,884.04" fill="none" stroke="#ec5a5e" stroke-width="2.2"/>
<path d="M554.10,798.44 L554.78,807.80 L555.47,816.14 L556.15,823.58 L556.83,830.21 L557.51,836.13 L558.20,841.40 L558.88,846.10 L559.56,850.30 L560.24,854.04 L560.93,857.37 L561.61,860.34 L562.29,862.99 L562.97,865.35 L563.66,867.46 L564.34,869.34 L565.02,871.02 L565.71,872.51 L566.39,873.84 L567.07,875.03 L567.75,876.09 L568.44,877.03 L569.12,877.87 L569.80,878.62 L570.48,879.29 L571.17,879.89 L571.85,880.42 L572.53,880.90 L573.21,881.32 L573.90,881.70 L574.58,882.03 L575.26,882.33 L575.95,882.60 L576.63,882.84 L577.31,883.05 L577.99,883.24 L578.68,883.41 L579.36,883.56 L580.04,883.69 L580.72,883.81 L581.41,883.92 L582.09,884.02 L582.77,884.10 L583.45,884.18 L584.14,884.24 L584.82,884.30 L585.50,884.36 L586.18,884.41 L586.87,884.45 L587.55,884.49 L588.23,884.52 L588.92,884.55 L589.60,884.58 L590.28,884.60 L590.96,884.62 L591.65,884.64 L592.33,884.66 L593.01,884.67 L593.69,884.69 L594.38,884.70 L595.06,884.71 L595.74,884.72 L596.42,884.73 L597.11,884.74 L597.79,884.74 L598.47,884.75 L599.16,884.76 L599.84,884.76 L600.52,884.76 L601.20,884.77 L601.89,884.77 L602.57,884.77 L603.25,884.78 L603.93,884.78 L604.62,884.78 L605.30,884.78 L605.98,884.79 L606.66,884.79 L607.35,884.79 L608.03,884.79 L608.71,884.79 L609.40,884.79 L610.08,884.79 L610.76,884.79 L611.44,884.79 L612.13,884.79 L612.81,884.80 L613.49,884.80 L614.17,884.80 L614.86,884.80 L615.54,884.80 L616.22,884.80 L616.90,884.80 L617.59,884.80 L618.27,884.80 L618.95,884.80 L619.63,884.80 L620.32,884.80 L621.00,884.80 L621.68,884.80 L622.37,884.80 L623.05,884.80 L623.73,884.80 L624.41,884.80 L625.10,884.80 L625.78,884.80 L626.46,884.80 L627.14,884.80 L627.83,884.80 L628.51,884.80 L629.19,884.80 L629.87,884.80 L630.56,884.80 L631.24,884.80 L631.92,884.80 L632.61,884.80 L633.29,884.80 L633.97,884.80 L634.65,884.80 L635.34,884.80 L636.02,884.80 L636.70,884.80 L637.38,884.80 L638.07,884.80 L638.75,884.80 L639.43,884.80 L640.11,884.80 L640.80,884.80 L641.48,884.80 L642.16,884.80 L642.85,884.80 L643.53,884.80 L644.21,884.80 L644.89,884.80 L645.58,884.80 L646.26,884.80 L646.94,884.80 L647.62,884.80 L648.31,884.80 L648.99,884.80 L649.67,884.80 L650.35,884.80 L651.04,884.80 L651.72,884.80 L652.40,884.80 L653.09,884.80 L653.77,884.80 L654.45,884.80 L655.13,884.80 L655.82,884.80 L656.50,884.80 L657.18,884.80 L657.86,884.80 L658.55,884.80 L659.23,884.80 L659.91,884.80 L660.59,884.80 L661.28,884.80 L661.96,884.80 L662.64,884.80 L663.33,884.80" fill="none" stroke="#3d9be9" stroke-width="2.2"/>
</g>
<path d="M543.8 791H682V902.5H543.8Z" fill="none" stroke="#111" stroke-width="1.8"/>
<text x="546.6999999999999" y="897.5" font-size="10.7" fill="#222">CAC4A</text>
<text x="611.8" y="804.2" font-size="10.8" fill="#222"><tspan font-style="italic">A</tspan><tspan font-size="7" dy="2.5" font-style="italic">t</tspan><tspan dy="-2.5">=</tspan><tspan font-style="italic">A</tspan>'+<tspan font-style="italic">A</tspan><tspan font-size="7" dy="2.5">0</tspan><tspan dy="-2.5">e</tspan><tspan font-size="7" dy="-3.5">−</tspan><tspan font-size="7" font-style="italic">kt</tspan></text>
<text x="611.8" y="817.2" font-size="10.8" fill="#222"><tspan font-style="italic">k</tspan> = 3.57 min<tspan font-size="7" dy="-3.5">−1</tspan></text>
<text x="611.8" y="829.2" font-size="10.8" fill="#222"><tspan font-style="italic">t</tspan><tspan font-size="7" dy="2.5" font-style="italic">1/2</tspan><tspan dy="-2.5">= 0.19 min</tspan></text>
<line x1="29.05" y1="956" x2="31.85" y2="956" stroke="#111" stroke-width="1.3"/>
<text x="28.05" y="959.3" text-anchor="end" font-size="9.4" fill="#222">0.4</text>
<line x1="29.05" y1="991.2" x2="31.85" y2="991.2" stroke="#111" stroke-width="1.3"/>
<text x="28.05" y="994.5" text-anchor="end" font-size="9.4" fill="#222">0.3</text>
<line x1="29.05" y1="1025.6" x2="31.85" y2="1025.6" stroke="#111" stroke-width="1.3"/>
<text x="28.05" y="1028.8999999999999" text-anchor="end" font-size="9.4" fill="#222">0.2</text>
<line x1="29.05" y1="1060.3" x2="31.85" y2="1060.3" stroke="#111" stroke-width="1.3"/>
<text x="28.05" y="1063.6" text-anchor="end" font-size="9.4" fill="#222">0.1</text>
<line x1="34.9" y1="1068.2" x2="34.9" y2="1071.0" stroke="#111" stroke-width="1.3"/>
<text x="34.9" y="1079.8" text-anchor="middle" font-size="9.4" fill="#222">0</text>
<line x1="65.05" y1="1068.2" x2="65.05" y2="1071.0" stroke="#111" stroke-width="1.3"/>
<text x="65.05" y="1079.8" text-anchor="middle" font-size="9.4" fill="#222">10</text>
<line x1="95.19999999999999" y1="1068.2" x2="95.19999999999999" y2="1071.0" stroke="#111" stroke-width="1.3"/>
<text x="95.19999999999999" y="1079.8" text-anchor="middle" font-size="9.4" fill="#222">20</text>
<line x1="125.35" y1="1068.2" x2="125.35" y2="1071.0" stroke="#111" stroke-width="1.3"/>
<text x="125.35" y="1079.8" text-anchor="middle" font-size="9.4" fill="#222">30</text>
<line x1="155.5" y1="1068.2" x2="155.5" y2="1071.0" stroke="#111" stroke-width="1.3"/>
<text x="155.5" y="1079.8" text-anchor="middle" font-size="9.4" fill="#222">40</text>
<text x="9.850000000000001" y="1012.6" transform="rotate(-90 9.850000000000001 1012.6)" text-anchor="middle" dominant-baseline="middle" font-size="9.7" fill="#222">Absorbance at 420 nm</text>
<text x="101.225" y="1094.7" text-anchor="middle" font-size="9.4" fill="#222">Time (min)</text>
<line x1="30.05" y1="973.60" x2="31.85" y2="973.60" stroke="#333" stroke-width="1"/>
<line x1="30.05" y1="1008.80" x2="31.85" y2="1008.80" stroke="#333" stroke-width="1"/>
<line x1="30.05" y1="1043.20" x2="31.85" y2="1043.20" stroke="#333" stroke-width="1"/>
<path d="M34.90,983.55 L49.97,982.76 L65.05,982.50 L80.12,981.45 L95.20,980.92 L110.28,980.92 L125.35,980.40 L140.43,980.40 L155.50,980.14" fill="none" stroke="#3f9ae9" stroke-width="1.5" stroke-linejoin="round"/>
<rect x="33.199999999999996" y="981.8522858644245" width="3.4" height="3.4" fill="#3f9ae9"/>
<rect x="48.27499999999999" y="981.0640567524961" width="3.4" height="3.4" fill="#3f9ae9"/>
<rect x="63.349999999999994" y="980.8013137151866" width="3.4" height="3.4" fill="#3f9ae9"/>
<rect x="78.425" y="979.7503415659485" width="3.4" height="3.4" fill="#3f9ae9"/>
<rect x="93.49999999999999" y="979.2248554913294" width="3.4" height="3.4" fill="#3f9ae9"/>
<rect x="108.575" y="979.2248554913294" width="3.4" height="3.4" fill="#3f9ae9"/>
<rect x="123.64999999999999" y="978.6993694167104" width="3.4" height="3.4" fill="#3f9ae9"/>
<rect x="138.72500000000002" y="978.6993694167104" width="3.4" height="3.4" fill="#3f9ae9"/>
<rect x="153.8" y="978.4366263794009" width="3.4" height="3.4" fill="#3f9ae9"/>
<path d="M34.90,983.55 L49.97,990.12 L65.05,991.43 L80.12,995.11 L95.20,999.05 L110.28,996.43 L125.35,994.85 L140.43,994.85 L155.50,997.74" fill="none" stroke="#ee4b72" stroke-width="1.5" stroke-linejoin="round"/>
<circle cx="34.9" cy="983.5522858644246" r="1.7" fill="#ee4b72"/>
<circle cx="49.974999999999994" cy="990.1208617971624" r="1.7" fill="#ee4b72"/>
<circle cx="65.05" cy="991.4345769837099" r="1.7" fill="#ee4b72"/>
<circle cx="80.125" cy="995.1129795060431" r="1.7" fill="#ee4b72"/>
<circle cx="95.19999999999999" cy="999.0541250656858" r="1.7" fill="#ee4b72"/>
<circle cx="110.275" cy="996.4266946925907" r="1.7" fill="#ee4b72"/>
<circle cx="125.35" cy="994.8502364687336" r="1.7" fill="#ee4b72"/>
<circle cx="140.425" cy="994.8502364687336" r="1.7" fill="#ee4b72"/>
<circle cx="155.5" cy="997.7404098791382" r="1.7" fill="#ee4b72"/>
<path d="M34.90,982.24 L49.97,1011.40 L65.05,1020.34 L80.12,1023.49 L95.20,1022.18 L110.28,1021.65 L125.35,1021.12 L140.43,1020.60 L155.50,1021.39" fill="none" stroke="#2ec06e" stroke-width="1.5" stroke-linejoin="round"/>
<path d="M34.9 980.1985706778771L36.94 983.9385706778771L32.86 983.9385706778771Z" fill="#2ec06e"/>
<path d="M49.974999999999994 1009.3630478192329L52.01499999999999 1013.1030478192329L47.934999999999995 1013.1030478192329Z" fill="#2ec06e"/>
<path d="M65.05 1018.2963110877562L67.09 1022.0363110877562L63.01 1022.0363110877562Z" fill="#2ec06e"/>
<path d="M80.125 1021.4492275354703L82.165 1025.1892275354703L78.085 1025.1892275354703Z" fill="#2ec06e"/>
<path d="M95.19999999999999 1020.1355123489228L97.24 1023.8755123489228L93.15999999999998 1023.8755123489228Z" fill="#2ec06e"/>
<path d="M110.275 1019.6100262743038L112.31500000000001 1023.3500262743038L108.235 1023.3500262743038Z" fill="#2ec06e"/>
<path d="M125.35 1019.0845401996847L127.39 1022.8245401996847L123.30999999999999 1022.8245401996847Z" fill="#2ec06e"/>
<path d="M140.425 1018.5590541250657L142.465 1022.2990541250657L138.38500000000002 1022.2990541250657Z" fill="#2ec06e"/>
<path d="M155.5 1019.3472832369943L157.54 1023.0872832369943L153.46 1023.0872832369943Z" fill="#2ec06e"/>
<path d="M34.90,983.55 L49.97,1028.22 L65.05,1042.67 L80.12,1045.82 L95.20,1046.87 L110.28,1047.66 L125.35,1047.40 L140.43,1047.14 L155.50,1045.82" fill="none" stroke="#a872e0" stroke-width="1.5" stroke-linejoin="round"/>
<path d="M34.9 985.5922858644245L36.94 981.8522858644245L32.86 981.8522858644245Z" fill="#a872e0"/>
<path d="M49.974999999999994 1030.2586022070413L52.01499999999999 1026.5186022070413L47.934999999999995 1026.5186022070413Z" fill="#a872e0"/>
<path d="M65.05 1044.7094692590647L67.09 1040.9694692590647L63.01 1040.9694692590647Z" fill="#a872e0"/>
<path d="M80.125 1047.8623857067787L82.165 1044.1223857067787L78.085 1044.1223857067787Z" fill="#a872e0"/>
<path d="M95.19999999999999 1048.9133578560168L97.24 1045.1733578560168L93.15999999999998 1045.1733578560168Z" fill="#a872e0"/>
<path d="M110.275 1049.7015869679453L112.31500000000001 1045.9615869679453L108.235 1045.9615869679453Z" fill="#a872e0"/>
<path d="M125.35 1049.4388439306358L127.39 1045.6988439306358L123.30999999999999 1045.6988439306358Z" fill="#a872e0"/>
<path d="M140.425 1049.1761008933263L142.465 1045.4361008933263L138.38500000000002 1045.4361008933263Z" fill="#a872e0"/>
<path d="M155.5 1047.8623857067787L157.54 1044.1223857067787L153.46 1044.1223857067787Z" fill="#a872e0"/>
<path d="M31.85 956H170.6V1068.2H31.85Z" fill="none" stroke="#111" stroke-width="1.8"/>
<text x="34.75" y="1063.2" font-size="10.7" fill="#222">ManAC4A</text>
<line x1="197.7" y1="970.2" x2="200.5" y2="970.2" stroke="#111" stroke-width="1.3"/>
<text x="196.7" y="973.5" text-anchor="end" font-size="9.4" fill="#222">0.4</text>
<line x1="197.7" y1="998" x2="200.5" y2="998" stroke="#111" stroke-width="1.3"/>
<text x="196.7" y="1001.3" text-anchor="end" font-size="9.4" fill="#222">0.3</text>
<line x1="197.7" y1="1025.9" x2="200.5" y2="1025.9" stroke="#111" stroke-width="1.3"/>
<text x="196.7" y="1029.2" text-anchor="end" font-size="9.4" fill="#222">0.2</text>
<line x1="197.7" y1="1053.7" x2="200.5" y2="1053.7" stroke="#111" stroke-width="1.3"/>
<text x="196.7" y="1057.0" text-anchor="end" font-size="9.4" fill="#222">0.1</text>
<line x1="202.8" y1="1068" x2="202.8" y2="1070.8" stroke="#111" stroke-width="1.3"/>
<text x="202.8" y="1079.6" text-anchor="middle" font-size="9.4" fill="#222">0</text>
<line x1="233.0" y1="1068" x2="233.0" y2="1070.8" stroke="#111" stroke-width="1.3"/>
<text x="233.0" y="1079.6" text-anchor="middle" font-size="9.4" fill="#222">10</text>
<line x1="263.2" y1="1068" x2="263.2" y2="1070.8" stroke="#111" stroke-width="1.3"/>
<text x="263.2" y="1079.6" text-anchor="middle" font-size="9.4" fill="#222">20</text>
<line x1="293.4" y1="1068" x2="293.4" y2="1070.8" stroke="#111" stroke-width="1.3"/>
<text x="293.4" y="1079.6" text-anchor="middle" font-size="9.4" fill="#222">30</text>
<line x1="323.6" y1="1068" x2="323.6" y2="1070.8" stroke="#111" stroke-width="1.3"/>
<text x="323.6" y="1079.6" text-anchor="middle" font-size="9.4" fill="#222">40</text>
<text x="178.5" y="1012.5" transform="rotate(-90 178.5 1012.5)" text-anchor="middle" dominant-baseline="middle" font-size="9.7" fill="#222">Absorbance at 420 nm</text>
<text x="269.625" y="1094.5" text-anchor="middle" font-size="9.4" fill="#222">Time (min)</text>
<line x1="198.7" y1="984.10" x2="200.5" y2="984.10" stroke="#333" stroke-width="1"/>
<line x1="198.7" y1="1011.90" x2="200.5" y2="1011.90" stroke="#333" stroke-width="1"/>
<line x1="198.7" y1="1039.80" x2="200.5" y2="1039.80" stroke="#333" stroke-width="1"/>
<path d="M202.80,971.47 L217.90,974.62 L233.00,975.67 L248.10,975.67 L263.20,976.46 L278.30,976.98 L293.40,976.98 L308.50,976.98 L323.60,976.46" fill="none" stroke="#3f9ae9" stroke-width="1.5" stroke-linejoin="round"/>
<rect x="201.10000000000002" y="969.766106148187" width="3.4" height="3.4" fill="#3f9ae9"/>
<rect x="216.20000000000002" y="972.9190225959012" width="3.4" height="3.4" fill="#3f9ae9"/>
<rect x="231.3" y="973.9699947451392" width="3.4" height="3.4" fill="#3f9ae9"/>
<rect x="246.40000000000003" y="973.9699947451392" width="3.4" height="3.4" fill="#3f9ae9"/>
<rect x="261.5" y="974.7582238570677" width="3.4" height="3.4" fill="#3f9ae9"/>
<rect x="276.6" y="975.2837099316868" width="3.4" height="3.4" fill="#3f9ae9"/>
<rect x="291.7" y="975.2837099316868" width="3.4" height="3.4" fill="#3f9ae9"/>
<rect x="306.8" y="975.2837099316868" width="3.4" height="3.4" fill="#3f9ae9"/>
<rect x="321.90000000000003" y="974.7582238570677" width="3.4" height="3.4" fill="#3f9ae9"/>
<path d="M202.80,973.04 L217.90,979.87 L233.00,988.28 L248.10,992.75 L263.20,995.38 L278.30,999.32 L293.40,998.53 L308.50,998.79 L323.60,998.79" fill="none" stroke="#ee4b72" stroke-width="1.5" stroke-linejoin="round"/>
<circle cx="202.8" cy="973.0425643720441" r="1.7" fill="#ee4b72"/>
<circle cx="217.9" cy="979.8738833420914" r="1.7" fill="#ee4b72"/>
<circle cx="233.0" cy="988.2816605359958" r="1.7" fill="#ee4b72"/>
<circle cx="248.10000000000002" cy="992.7482921702575" r="1.7" fill="#ee4b72"/>
<circle cx="263.2" cy="995.3757225433526" r="1.7" fill="#ee4b72"/>
<circle cx="278.3" cy="999.3168681029953" r="1.7" fill="#ee4b72"/>
<circle cx="293.4" cy="998.5286389910667" r="1.7" fill="#ee4b72"/>
<circle cx="308.5" cy="998.7913820283762" r="1.7" fill="#ee4b72"/>
<circle cx="323.6" cy="998.7913820283762" r="1.7" fill="#ee4b72"/>
<path d="M202.80,974.09 L217.90,984.60 L233.00,1008.78 L248.10,1024.28 L263.20,1027.17 L278.30,1028.74 L293.40,1029.53 L308.50,1029.80 L323.60,1030.06" fill="none" stroke="#2ec06e" stroke-width="1.5" stroke-linejoin="round"/>
<path d="M202.8 972.0535365212822L204.84 975.7935365212822L200.76000000000002 975.7935365212822Z" fill="#2ec06e"/>
<path d="M217.9 982.5632580136627L219.94 986.3032580136627L215.86 986.3032580136627Z" fill="#2ec06e"/>
<path d="M233.0 1006.7356174461377L235.04 1010.4756174461377L230.96 1010.4756174461377Z" fill="#2ec06e"/>
<path d="M248.10000000000002 1022.2374566473989L250.14000000000001 1025.9774566473989L246.06000000000003 1025.9774566473989Z" fill="#2ec06e"/>
<path d="M263.2 1025.1276300578036L265.24 1028.8676300578036L261.15999999999997 1028.8676300578036Z" fill="#2ec06e"/>
<path d="M278.3 1026.7040882816605L280.34000000000003 1030.4440882816605L276.26 1030.4440882816605Z" fill="#2ec06e"/>
<path d="M293.4 1027.492317393589L295.44 1031.232317393589L291.35999999999996 1031.232317393589Z" fill="#2ec06e"/>
<path d="M308.5 1027.7550604308985L310.54 1031.4950604308985L306.46 1031.4950604308985Z" fill="#2ec06e"/>
<path d="M323.6 1028.017803468208L325.64000000000004 1031.757803468208L321.56 1031.757803468208Z" fill="#2ec06e"/>
<path d="M202.80,973.04 L217.90,997.74 L233.00,1033.21 L248.10,1048.98 L263.20,1051.60 L278.30,1052.65 L293.40,1052.92 L308.50,1052.92 L323.60,1052.92" fill="none" stroke="#a872e0" stroke-width="1.5" stroke-linejoin="round"/>
<path d="M202.8 975.0825643720441L204.84 971.3425643720441L200.76000000000002 971.3425643720441Z" fill="#a872e0"/>
<path d="M217.9 999.7804098791381L219.94 996.0404098791381L215.86 996.0404098791381Z" fill="#a872e0"/>
<path d="M233.0 1035.2507199159222L235.04 1031.5107199159222L230.96 1031.5107199159222Z" fill="#a872e0"/>
<path d="M248.10000000000002 1051.015302154493L250.14000000000001 1047.275302154493L246.06000000000003 1047.275302154493Z" fill="#a872e0"/>
<path d="M263.2 1053.642732527588L265.24 1049.902732527588L261.15999999999997 1049.902732527588Z" fill="#a872e0"/>
<path d="M278.3 1054.693704676826L280.34000000000003 1050.953704676826L276.26 1050.953704676826Z" fill="#a872e0"/>
<path d="M293.4 1054.9564477141355L295.44 1051.2164477141355L291.35999999999996 1051.2164477141355Z" fill="#a872e0"/>
<path d="M308.5 1054.9564477141355L310.54 1051.2164477141355L306.46 1051.2164477141355Z" fill="#a872e0"/>
<path d="M323.6 1054.9564477141355L325.64000000000004 1051.2164477141355L321.56 1051.2164477141355Z" fill="#a872e0"/>
<path d="M200.5 956H338.75V1068H200.5Z" fill="none" stroke="#111" stroke-width="1.8"/>
<text x="203.4" y="1063" font-size="10.7" fill="#222">LysAC4A</text>
<line x1="367.34999999999997" y1="971.7" x2="370.15" y2="971.7" stroke="#111" stroke-width="1.3"/>
<text x="366.34999999999997" y="975.0" text-anchor="end" font-size="9.4" fill="#222">0.3</text>
<line x1="367.34999999999997" y1="1004" x2="370.15" y2="1004" stroke="#111" stroke-width="1.3"/>
<text x="366.34999999999997" y="1007.3" text-anchor="end" font-size="9.4" fill="#222">0.2</text>
<line x1="367.34999999999997" y1="1036.1" x2="370.15" y2="1036.1" stroke="#111" stroke-width="1.3"/>
<text x="366.34999999999997" y="1039.3999999999999" text-anchor="end" font-size="9.4" fill="#222">0.1</text>
<line x1="373.4" y1="1068" x2="373.4" y2="1070.8" stroke="#111" stroke-width="1.3"/>
<text x="373.4" y="1079.6" text-anchor="middle" font-size="9.4" fill="#222">0</text>
<line x1="403.5" y1="1068" x2="403.5" y2="1070.8" stroke="#111" stroke-width="1.3"/>
<text x="403.5" y="1079.6" text-anchor="middle" font-size="9.4" fill="#222">10</text>
<line x1="433.59999999999997" y1="1068" x2="433.59999999999997" y2="1070.8" stroke="#111" stroke-width="1.3"/>
<text x="433.59999999999997" y="1079.6" text-anchor="middle" font-size="9.4" fill="#222">20</text>
<line x1="463.7" y1="1068" x2="463.7" y2="1070.8" stroke="#111" stroke-width="1.3"/>
<text x="463.7" y="1079.6" text-anchor="middle" font-size="9.4" fill="#222">30</text>
<line x1="493.79999999999995" y1="1068" x2="493.79999999999995" y2="1070.8" stroke="#111" stroke-width="1.3"/>
<text x="493.79999999999995" y="1079.6" text-anchor="middle" font-size="9.4" fill="#222">40</text>
<text x="348.15" y="1012.5" transform="rotate(-90 348.15 1012.5)" text-anchor="middle" dominant-baseline="middle" font-size="9.7" fill="#222">Absorbance at 420 nm</text>
<text x="439.45" y="1094.5" text-anchor="middle" font-size="9.4" fill="#222">Time (min)</text>
<line x1="368.34999999999997" y1="987.85" x2="370.15" y2="987.85" stroke="#333" stroke-width="1"/>
<line x1="368.34999999999997" y1="1020.15" x2="370.15" y2="1020.15" stroke="#333" stroke-width="1"/>
<line x1="368.34999999999997" y1="1052.25" x2="370.15" y2="1052.25" stroke="#333" stroke-width="1"/>
<path d="M373.40,971.73 L388.45,978.56 L403.50,979.87 L418.55,980.14 L433.60,979.61 L448.65,980.14 L463.70,980.14 L478.75,979.61 L493.80,980.14" fill="none" stroke="#3f9ae9" stroke-width="1.5" stroke-linejoin="round"/>
<rect x="371.7" y="970.0288491854965" width="3.4" height="3.4" fill="#3f9ae9"/>
<rect x="386.75" y="976.8601681555439" width="3.4" height="3.4" fill="#3f9ae9"/>
<rect x="401.8" y="978.1738833420914" width="3.4" height="3.4" fill="#3f9ae9"/>
<rect x="416.84999999999997" y="978.4366263794009" width="3.4" height="3.4" fill="#3f9ae9"/>
<rect x="431.9" y="977.9111403047818" width="3.4" height="3.4" fill="#3f9ae9"/>
<rect x="446.95" y="978.4366263794009" width="3.4" height="3.4" fill="#3f9ae9"/>
<rect x="462.0" y="978.4366263794009" width="3.4" height="3.4" fill="#3f9ae9"/>
<rect x="477.05" y="977.9111403047818" width="3.4" height="3.4" fill="#3f9ae9"/>
<rect x="492.09999999999997" y="978.4366263794009" width="3.4" height="3.4" fill="#3f9ae9"/>
<path d="M373.40,972.25 L388.45,981.45 L403.50,982.50 L418.55,984.87 L433.60,988.02 L448.65,993.01 L463.70,995.90 L478.75,998.27 L493.80,997.48" fill="none" stroke="#ee4b72" stroke-width="1.5" stroke-linejoin="round"/>
<circle cx="373.4" cy="972.2543352601156" r="1.7" fill="#ee4b72"/>
<circle cx="388.45" cy="981.4503415659485" r="1.7" fill="#ee4b72"/>
<circle cx="403.5" cy="982.5013137151866" r="1.7" fill="#ee4b72"/>
<circle cx="418.54999999999995" cy="984.8660010509722" r="1.7" fill="#ee4b72"/>
<circle cx="433.59999999999997" cy="988.0189174986863" r="1.7" fill="#ee4b72"/>
<circle cx="448.65" cy="993.011035207567" r="1.7" fill="#ee4b72"/>
<circle cx="463.7" cy="995.9012086179716" r="1.7" fill="#ee4b72"/>
<circle cx="478.75" cy="998.2658959537572" r="1.7" fill="#ee4b72"/>
<circle cx="493.79999999999995" cy="997.4776668418287" r="1.7" fill="#ee4b72"/>
<path d="M373.40,971.73 L388.45,980.14 L403.50,999.05 L418.55,1019.55 L433.60,1021.65 L448.65,1025.07 L463.70,1024.01 L478.75,1023.75 L493.80,1023.49" fill="none" stroke="#2ec06e" stroke-width="1.5" stroke-linejoin="round"/>
<path d="M373.4 969.6888491854966L375.44 973.4288491854966L371.35999999999996 973.4288491854966Z" fill="#2ec06e"/>
<path d="M388.45 978.096626379401L390.49 981.836626379401L386.40999999999997 981.836626379401Z" fill="#2ec06e"/>
<path d="M403.5 997.0141250656858L405.54 1000.7541250656858L401.46 1000.7541250656858Z" fill="#2ec06e"/>
<path d="M418.54999999999995 1017.5080819758277L420.59 1021.2480819758277L416.50999999999993 1021.2480819758277Z" fill="#2ec06e"/>
<path d="M433.59999999999997 1019.6100262743038L435.64 1023.3500262743038L431.55999999999995 1023.3500262743038Z" fill="#2ec06e"/>
<path d="M448.65 1023.0256857593274L450.69 1026.7656857593274L446.60999999999996 1026.7656857593274Z" fill="#2ec06e"/>
<path d="M463.7 1021.9747136100893L465.74 1025.7147136100893L461.65999999999997 1025.7147136100893Z" fill="#2ec06e"/>
<path d="M478.75 1021.7119705727798L480.79 1025.4519705727798L476.71 1025.4519705727798Z" fill="#2ec06e"/>
<path d="M493.79999999999995 1021.4492275354703L495.84 1025.1892275354703L491.75999999999993 1025.1892275354703Z" fill="#2ec06e"/>
<path d="M373.40,972.78 L388.45,1002.47 L403.50,1036.36 L418.55,1053.44 L433.60,1061.85 L448.65,1062.90 L463.70,1063.16 L478.75,1063.43 L493.80,1063.95" fill="none" stroke="#a872e0" stroke-width="1.5" stroke-linejoin="round"/>
<path d="M373.4 974.8198213347346L375.44 971.0798213347346L371.35999999999996 971.0798213347346Z" fill="#a872e0"/>
<path d="M388.45 1004.5097845507094L390.49 1000.7697845507093L386.40999999999997 1000.7697845507093Z" fill="#a872e0"/>
<path d="M403.5 1038.4036363636365L405.54 1034.6636363636364L401.46 1034.6636363636364Z" fill="#a872e0"/>
<path d="M418.54999999999995 1055.4819337887545L420.59 1051.7419337887545L416.50999999999993 1051.7419337887545Z" fill="#a872e0"/>
<path d="M433.59999999999997 1063.889710982659L435.64 1060.149710982659L431.55999999999995 1060.149710982659Z" fill="#a872e0"/>
<path d="M448.65 1064.940683131897L450.69 1061.200683131897L446.60999999999996 1061.200683131897Z" fill="#a872e0"/>
<path d="M463.7 1065.2034261692065L465.74 1061.4634261692065L461.65999999999997 1061.4634261692065Z" fill="#a872e0"/>
<path d="M478.75 1065.466169206516L480.79 1061.726169206516L476.71 1061.726169206516Z" fill="#a872e0"/>
<path d="M493.79999999999995 1065.991655281135L495.84 1062.251655281135L491.75999999999993 1062.251655281135Z" fill="#a872e0"/>
<path d="M370.15 956H508.75V1068H370.15Z" fill="none" stroke="#111" stroke-width="1.8"/>
<text x="373.04999999999995" y="1063" font-size="10.7" fill="#222">SerAC4A</text>
<line x1="541.0" y1="966.5" x2="543.8" y2="966.5" stroke="#111" stroke-width="1.3"/>
<text x="540.0" y="969.8" text-anchor="end" font-size="9.4" fill="#222">0.4</text>
<line x1="541.0" y1="987.2" x2="543.8" y2="987.2" stroke="#111" stroke-width="1.3"/>
<text x="540.0" y="990.5" text-anchor="end" font-size="9.4" fill="#222">0.3</text>
<line x1="541.0" y1="1007.7" x2="543.8" y2="1007.7" stroke="#111" stroke-width="1.3"/>
<text x="540.0" y="1011.0" text-anchor="end" font-size="9.4" fill="#222">0.2</text>
<line x1="541.0" y1="1028.2" x2="543.8" y2="1028.2" stroke="#111" stroke-width="1.3"/>
<text x="540.0" y="1031.5" text-anchor="end" font-size="9.4" fill="#222">0.1</text>
<line x1="541.0" y1="1049" x2="543.8" y2="1049" stroke="#111" stroke-width="1.3"/>
<text x="540.0" y="1052.3" text-anchor="end" font-size="9.4" fill="#222">0.0</text>
<line x1="546.3" y1="1068" x2="546.3" y2="1070.8" stroke="#111" stroke-width="1.3"/>
<text x="546.3" y="1079.6" text-anchor="middle" font-size="9.4" fill="#222">0</text>
<line x1="576.6999999999999" y1="1068" x2="576.6999999999999" y2="1070.8" stroke="#111" stroke-width="1.3"/>
<text x="576.6999999999999" y="1079.6" text-anchor="middle" font-size="9.4" fill="#222">10</text>
<line x1="607.0999999999999" y1="1068" x2="607.0999999999999" y2="1070.8" stroke="#111" stroke-width="1.3"/>
<text x="607.0999999999999" y="1079.6" text-anchor="middle" font-size="9.4" fill="#222">20</text>
<line x1="637.5" y1="1068" x2="637.5" y2="1070.8" stroke="#111" stroke-width="1.3"/>
<text x="637.5" y="1079.6" text-anchor="middle" font-size="9.4" fill="#222">30</text>
<line x1="667.9" y1="1068" x2="667.9" y2="1070.8" stroke="#111" stroke-width="1.3"/>
<text x="667.9" y="1079.6" text-anchor="middle" font-size="9.4" fill="#222">40</text>
<text x="521.8" y="1012.5" transform="rotate(-90 521.8 1012.5)" text-anchor="middle" dominant-baseline="middle" font-size="9.7" fill="#222">Absorbance at 420 nm</text>
<text x="612.9" y="1094.5" text-anchor="middle" font-size="9.4" fill="#222">Time (min)</text>
<line x1="542.0" y1="976.85" x2="543.8" y2="976.85" stroke="#333" stroke-width="1"/>
<line x1="542.0" y1="997.55" x2="543.8" y2="997.55" stroke="#333" stroke-width="1"/>
<line x1="542.0" y1="1018.05" x2="543.8" y2="1018.05" stroke="#333" stroke-width="1"/>
<line x1="542.0" y1="1038.55" x2="543.8" y2="1038.55" stroke="#333" stroke-width="1"/>
<line x1="542.0" y1="1059.35" x2="543.8" y2="1059.35" stroke="#333" stroke-width="1"/>
<path d="M546.30,973.04 L561.50,972.25 L576.70,972.52 L591.90,973.31 L607.10,974.09 L622.30,974.62 L637.50,975.41 L652.70,975.41 L667.90,974.62" fill="none" stroke="#3f9ae9" stroke-width="1.5" stroke-linejoin="round"/>
<rect x="544.5999999999999" y="971.3425643720441" width="3.4" height="3.4" fill="#3f9ae9"/>
<rect x="559.8" y="970.5543352601155" width="3.4" height="3.4" fill="#3f9ae9"/>
<rect x="574.9999999999999" y="970.817078297425" width="3.4" height="3.4" fill="#3f9ae9"/>
<rect x="590.1999999999999" y="971.6053074093536" width="3.4" height="3.4" fill="#3f9ae9"/>
<rect x="605.3999999999999" y="972.3935365212822" width="3.4" height="3.4" fill="#3f9ae9"/>
<rect x="620.5999999999999" y="972.9190225959012" width="3.4" height="3.4" fill="#3f9ae9"/>
<rect x="635.8" y="973.7072517078298" width="3.4" height="3.4" fill="#3f9ae9"/>
<rect x="650.9999999999999" y="973.7072517078298" width="3.4" height="3.4" fill="#3f9ae9"/>
<rect x="666.1999999999999" y="972.9190225959012" width="3.4" height="3.4" fill="#3f9ae9"/>
<path d="M546.30,972.78 L561.50,981.98 L576.70,989.33 L591.90,993.27 L607.10,1005.10 L622.30,1007.20 L637.50,1007.99 L652.70,1010.61 L667.90,1011.67" fill="none" stroke="#ee4b72" stroke-width="1.5" stroke-linejoin="round"/>
<circle cx="546.3" cy="972.7798213347346" r="1.7" fill="#ee4b72"/>
<circle cx="561.5" cy="981.9758276405676" r="1.7" fill="#ee4b72"/>
<circle cx="576.6999999999999" cy="989.3326326852339" r="1.7" fill="#ee4b72"/>
<circle cx="591.9" cy="993.2737782448766" r="1.7" fill="#ee4b72"/>
<circle cx="607.0999999999999" cy="1005.0972149238045" r="1.7" fill="#ee4b72"/>
<circle cx="622.3" cy="1007.1991592222806" r="1.7" fill="#ee4b72"/>
<circle cx="637.5" cy="1007.9873883342092" r="1.7" fill="#ee4b72"/>
<circle cx="652.6999999999999" cy="1010.6148187073043" r="1.7" fill="#ee4b72"/>
<circle cx="667.9" cy="1011.6657908565423" r="1.7" fill="#ee4b72"/>
<path d="M546.30,976.20 L561.50,1004.57 L576.70,1011.67 L591.90,1026.12 L607.10,1030.58 L622.30,1030.85 L637.50,1034.79 L652.70,1037.41 L667.90,1037.68" fill="none" stroke="#2ec06e" stroke-width="1.5" stroke-linejoin="round"/>
<path d="M546.3 974.1554808197583L548.3399999999999 977.8954808197583L544.26 977.8954808197583Z" fill="#2ec06e"/>
<path d="M561.5 1002.5317288491856L563.54 1006.2717288491856L559.46 1006.2717288491856Z" fill="#2ec06e"/>
<path d="M576.6999999999999 1009.6257908565424L578.7399999999999 1013.3657908565424L574.66 1013.3657908565424Z" fill="#2ec06e"/>
<path d="M591.9 1024.0766579085655L593.9399999999999 1027.8166579085655L589.86 1027.8166579085655Z" fill="#2ec06e"/>
<path d="M607.0999999999999 1028.543289542827L609.1399999999999 1032.283289542827L605.06 1032.283289542827Z" fill="#2ec06e"/>
<path d="M622.3 1028.8060325801366L624.3399999999999 1032.5460325801366L620.26 1032.5460325801366Z" fill="#2ec06e"/>
<path d="M637.5 1032.7471781397794L639.54 1036.4871781397794L635.46 1036.4871781397794Z" fill="#2ec06e"/>
<path d="M652.6999999999999 1035.3746085128744L654.7399999999999 1039.1146085128744L650.66 1039.1146085128744Z" fill="#2ec06e"/>
<path d="M667.9 1035.637351550184L669.9399999999999 1039.377351550184L665.86 1039.377351550184Z" fill="#2ec06e"/>
<path d="M546.30,972.25 L561.50,1005.10 L576.70,1047.66 L591.90,1051.87 L607.10,1055.28 L622.30,1056.07 L637.50,1055.02 L652.70,1055.28 L667.90,1055.28" fill="none" stroke="#a872e0" stroke-width="1.5" stroke-linejoin="round"/>
<path d="M546.3 974.2943352601155L548.3399999999999 970.5543352601155L544.26 970.5543352601155Z" fill="#a872e0"/>
<path d="M561.5 1007.1372149238044L563.54 1003.3972149238044L559.46 1003.3972149238044Z" fill="#a872e0"/>
<path d="M576.6999999999999 1049.7015869679453L578.7399999999999 1045.9615869679453L574.66 1045.9615869679453Z" fill="#a872e0"/>
<path d="M591.9 1053.9054755648974L593.9399999999999 1050.1654755648974L589.86 1050.1654755648974Z" fill="#a872e0"/>
<path d="M607.0999999999999 1057.3211350499212L609.1399999999999 1053.5811350499212L605.06 1053.5811350499212Z" fill="#a872e0"/>
<path d="M622.3 1058.1093641618497L624.3399999999999 1054.3693641618497L620.26 1054.3693641618497Z" fill="#a872e0"/>
<path d="M637.5 1057.0583920126116L639.54 1053.3183920126116L635.46 1053.3183920126116Z" fill="#a872e0"/>
<path d="M652.6999999999999 1057.3211350499212L654.7399999999999 1053.5811350499212L650.66 1053.5811350499212Z" fill="#a872e0"/>
<path d="M667.9 1057.3211350499212L669.9399999999999 1053.5811350499212L665.86 1053.5811350499212Z" fill="#a872e0"/>
<path d="M543.8 956H682V1068H543.8Z" fill="none" stroke="#111" stroke-width="1.8"/>
<text x="546.6999999999999" y="1063" font-size="10.7" fill="#222">CAC4A</text>
<line x1="145.1" y1="944.3" x2="181.9" y2="944.3" stroke="#3f9ae9" stroke-width="2.5"/>
<rect x="159.3" y="940.0999999999999" width="8.4" height="8.4" fill="#3f9ae9"/>
<text x="185" y="948" font-size="11.4" fill="#222">0 μg/mL</text>
<line x1="242" y1="944.3" x2="279" y2="944.3" stroke="#ee4b72" stroke-width="2.5"/>
<circle cx="260.3" cy="944.3" r="4.2" fill="#ee4b72"/>
<text x="280" y="948" font-size="11.4" fill="#222">15 μg/mL</text>
<line x1="343.8" y1="944.3" x2="380.8" y2="944.3" stroke="#2ec06e" stroke-width="2.5"/>
<path d="M362 939.26L367.04 948.5L356.96 948.5Z" fill="#2ec06e"/>
<text x="384.6" y="948" font-size="11.4" fill="#222">30 μg/mL</text>
<line x1="445.1" y1="944.3" x2="482.2" y2="944.3" stroke="#a872e0" stroke-width="2.5"/>
<path d="M464 949.3399999999999L469.04 940.0999999999999L458.96 940.0999999999999Z" fill="#a872e0"/>
<text x="485.3" y="948" font-size="11.4" fill="#222">40 μg/mL</text>
<text x="-1" y="12.3" font-size="22.5" fill="#111" stroke="#111" stroke-width="0.25">a</text><text x="-1" y="411.5" font-size="22.5" fill="#111" stroke="#111" stroke-width="0.25">b</text><text x="-1" y="790" font-size="22.5" fill="#111" stroke="#111" stroke-width="0.25">c</text><text x="-1" y="952.2" font-size="22.5" fill="#111" stroke="#111" stroke-width="0.25">d</text>
</svg>
</body></html>
